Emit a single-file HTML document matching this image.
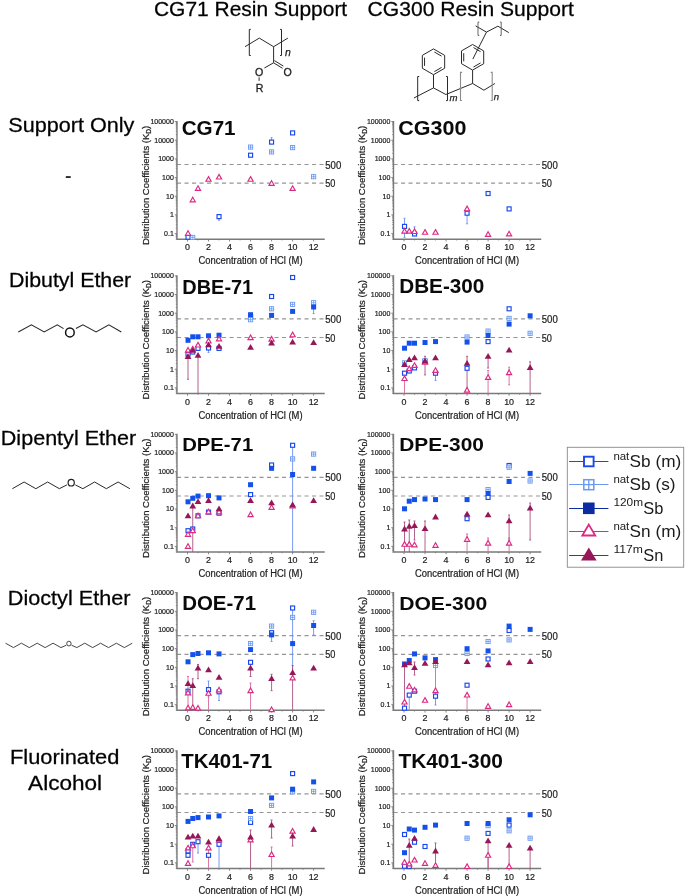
<!DOCTYPE html>
<html><head><meta charset="utf-8"><title>Distribution coefficients</title><style>html,body{margin:0;padding:0;background:#fff;}svg{display:block;will-change:transform;}</style></head><body>
<svg width="685" height="896" viewBox="0 0 685 896" font-family="'Liberation Sans', sans-serif">
<rect width="685" height="896" fill="#fff"/>
<text x="154" y="15.6" font-size="19.8" textLength="193.2" lengthAdjust="spacingAndGlyphs" stroke="#111" stroke-width="0.28">CG71 Resin Support</text>
<text x="367.6" y="15.6" font-size="19.8" textLength="206.2" lengthAdjust="spacingAndGlyphs" stroke="#111" stroke-width="0.28">CG300 Resin Support</text>
<text x="8.3" y="131.8" font-size="19.8" textLength="126" lengthAdjust="spacingAndGlyphs" stroke="#111" stroke-width="0.28">Support Only</text>
<rect x="65.8" y="176.2" width="4.9" height="1.7" fill="#111"/>
<text x="9" y="286.6" font-size="19.8" textLength="122.2" lengthAdjust="spacingAndGlyphs" stroke="#111" stroke-width="0.28">Dibutyl Ether</text>
<text x="0.8" y="444.8" font-size="19.8" textLength="135.4" lengthAdjust="spacingAndGlyphs" stroke="#111" stroke-width="0.28">Dipentyl Ether</text>
<text x="7.8" y="604.8" font-size="19.8" textLength="122.7" lengthAdjust="spacingAndGlyphs" stroke="#111" stroke-width="0.28">Dioctyl Ether</text>
<text x="10" y="763.5" font-size="19.8" textLength="109.3" lengthAdjust="spacingAndGlyphs" stroke="#111" stroke-width="0.28">Fluorinated</text>
<text x="28.1" y="790.1" font-size="19.8" textLength="74" lengthAdjust="spacingAndGlyphs" stroke="#111" stroke-width="0.28">Alcohol</text>
<line x1="176.99" y1="164.52" x2="324.13" y2="164.52" stroke="#959595" stroke-width="1.2" stroke-dasharray="4.1 3.4"/>
<text x="325.23" y="168.62" font-size="10" textLength="16.0" lengthAdjust="spacingAndGlyphs" fill="#222" stroke="#222" stroke-width="0.22">500</text>
<line x1="176.99" y1="183.19" x2="324.13" y2="183.19" stroke="#959595" stroke-width="1.2" stroke-dasharray="4.1 3.4"/>
<text x="325.23" y="187.29" font-size="10" textLength="10.2" lengthAdjust="spacingAndGlyphs" fill="#222" stroke="#222" stroke-width="0.22">50</text>
<path d="M176.99 120.96V239.2H324.73" fill="none" stroke="#7a7a7a" stroke-width="1.4"/>
<text x="173.79" y="235.88" font-size="7.5" text-anchor="end" textLength="9.74" lengthAdjust="spacingAndGlyphs" fill="#222" stroke="#222" stroke-width="0.22">0.1</text>
<text x="173.79" y="217.21" font-size="7.5" text-anchor="end" textLength="3.9" lengthAdjust="spacingAndGlyphs" fill="#222" stroke="#222" stroke-width="0.22">1</text>
<text x="173.79" y="198.54" font-size="7.5" text-anchor="end" textLength="7.79" lengthAdjust="spacingAndGlyphs" fill="#222" stroke="#222" stroke-width="0.22">10</text>
<text x="173.79" y="179.87" font-size="7.5" text-anchor="end" textLength="11.69" lengthAdjust="spacingAndGlyphs" fill="#222" stroke="#222" stroke-width="0.22">100</text>
<text x="173.79" y="161.2" font-size="7.5" text-anchor="end" textLength="15.58" lengthAdjust="spacingAndGlyphs" fill="#222" stroke="#222" stroke-width="0.22">1000</text>
<text x="173.79" y="142.53" font-size="7.5" text-anchor="end" textLength="19.48" lengthAdjust="spacingAndGlyphs" fill="#222" stroke="#222" stroke-width="0.22">10000</text>
<text x="173.79" y="123.86" font-size="7.5" text-anchor="end" textLength="23.37" lengthAdjust="spacingAndGlyphs" fill="#222" stroke="#222" stroke-width="0.22">100000</text>
<path d="M174.79 233.58H176.99 M175.79 227.96H176.99 M175.79 224.67H176.99 M175.79 222.34H176.99 M175.79 220.53H176.99 M175.79 219.05H176.99 M175.79 217.8H176.99 M175.79 216.72H176.99 M175.79 215.76H176.99 M174.79 214.91H176.99 M175.79 209.29H176.99 M175.79 206H176.99 M175.79 203.67H176.99 M175.79 201.86H176.99 M175.79 200.38H176.99 M175.79 199.13H176.99 M175.79 198.05H176.99 M175.79 197.09H176.99 M174.79 196.24H176.99 M175.79 190.62H176.99 M175.79 187.33H176.99 M175.79 185H176.99 M175.79 183.19H176.99 M175.79 181.71H176.99 M175.79 180.46H176.99 M175.79 179.38H176.99 M175.79 178.42H176.99 M174.79 177.57H176.99 M175.79 171.95H176.99 M175.79 168.66H176.99 M175.79 166.33H176.99 M175.79 164.52H176.99 M175.79 163.04H176.99 M175.79 161.79H176.99 M175.79 160.71H176.99 M175.79 159.75H176.99 M174.79 158.9H176.99 M175.79 153.28H176.99 M175.79 149.99H176.99 M175.79 147.66H176.99 M175.79 145.85H176.99 M175.79 144.37H176.99 M175.79 143.12H176.99 M175.79 142.04H176.99 M175.79 141.08H176.99 M174.79 140.23H176.99 M175.79 134.61H176.99 M175.79 131.32H176.99 M175.79 128.99H176.99 M175.79 127.18H176.99 M175.79 125.7H176.99 M175.79 124.45H176.99 M175.79 123.37H176.99 M175.79 122.41H176.99 M174.79 121.56H176.99 M175.79 239.2H176.99 M175.79 237.72H176.99 M175.79 236.47H176.99 M175.79 235.39H176.99 M175.79 234.43H176.99 M187.5 239.2V241.4 M198.01 239.2V240.4 M208.52 239.2V241.4 M219.03 239.2V240.4 M229.54 239.2V241.4 M240.05 239.2V240.4 M250.56 239.2V241.4 M261.07 239.2V240.4 M271.58 239.2V241.4 M282.09 239.2V240.4 M292.6 239.2V241.4 M303.11 239.2V240.4 M313.62 239.2V241.4" stroke="#7a7a7a" stroke-width="0.9" fill="none"/>
<text x="187.5" y="250.2" font-size="9.8" text-anchor="middle" textLength="4.95" lengthAdjust="spacingAndGlyphs" fill="#222" stroke="#222" stroke-width="0.22">0</text>
<text x="208.52" y="250.2" font-size="9.8" text-anchor="middle" textLength="4.95" lengthAdjust="spacingAndGlyphs" fill="#222" stroke="#222" stroke-width="0.22">2</text>
<text x="229.54" y="250.2" font-size="9.8" text-anchor="middle" textLength="4.95" lengthAdjust="spacingAndGlyphs" fill="#222" stroke="#222" stroke-width="0.22">4</text>
<text x="250.56" y="250.2" font-size="9.8" text-anchor="middle" textLength="4.95" lengthAdjust="spacingAndGlyphs" fill="#222" stroke="#222" stroke-width="0.22">6</text>
<text x="271.58" y="250.2" font-size="9.8" text-anchor="middle" textLength="4.95" lengthAdjust="spacingAndGlyphs" fill="#222" stroke="#222" stroke-width="0.22">8</text>
<text x="292.6" y="250.2" font-size="9.8" text-anchor="middle" textLength="9.9" lengthAdjust="spacingAndGlyphs" fill="#222" stroke="#222" stroke-width="0.22">10</text>
<text x="313.62" y="250.2" font-size="9.8" text-anchor="middle" textLength="9.9" lengthAdjust="spacingAndGlyphs" fill="#222" stroke="#222" stroke-width="0.22">12</text>
<text x="250.56" y="264.2" font-size="10" text-anchor="middle" textLength="104" lengthAdjust="spacingAndGlyphs" fill="#222" stroke="#222" stroke-width="0.22">Concentration of HCl (M)</text>
<text transform="translate(148.69 185.48) rotate(-90)" x="0" y="0" font-size="9.8" text-anchor="middle" textLength="119.3" lengthAdjust="spacingAndGlyphs" fill="#222" stroke="#222" stroke-width="0.22">Distribution Coefficients (K<tspan font-size="6.8" dy="2">D</tspan><tspan dy="-2">)</tspan></text>
<text x="181.7" y="135.4" font-size="19.55" font-weight="bold" textLength="53.9" lengthAdjust="spacingAndGlyphs" fill="#0a0a0a">CG71</text>
<path d="M271.58 137.7V142.1" stroke="#6a8fec" stroke-width="0.9"/>
<path d="M270.58 137.7h2" stroke="#6a8fec" stroke-width="0.9"/>
<path d="M219.03 216.6V220.2" stroke="#6a8fec" stroke-width="0.9"/>
<path d="M218.03 220.2h2" stroke="#6a8fec" stroke-width="0.9"/>
<rect x="290.6" y="130.9" width="4" height="4" fill="#fff" stroke="#1a48ec" stroke-width="1.15"/>
<rect x="269.58" y="140.1" width="4" height="4" fill="#fff" stroke="#1a48ec" stroke-width="1.15"/>
<rect x="248.56" y="153.2" width="4" height="4" fill="#fff" stroke="#1a48ec" stroke-width="1.15"/>
<rect x="217.03" y="214.6" width="4" height="4" fill="#fff" stroke="#1a48ec" stroke-width="1.15"/>
<rect x="186.03" y="235.2" width="4" height="4" fill="#fff" stroke="#1a48ec" stroke-width="1.15"/>
<rect x="269.48" y="149.8" width="4.2" height="4.2" fill="#fff" stroke="#6a98f2" stroke-width="0.9"/><path d="M271.58 149.8V154M269.48 151.9H273.68" stroke="#6a98f2" stroke-width="0.8"/>
<rect x="290.5" y="145.5" width="4.2" height="4.2" fill="#fff" stroke="#6a98f2" stroke-width="0.9"/><path d="M292.6 145.5V149.7M290.5 147.6H294.7" stroke="#6a98f2" stroke-width="0.8"/>
<rect x="248.46" y="145" width="4.2" height="4.2" fill="#fff" stroke="#6a98f2" stroke-width="0.9"/><path d="M250.56 145V149.2M248.46 147.1H252.66" stroke="#6a98f2" stroke-width="0.8"/>
<rect x="311.52" y="174.6" width="4.2" height="4.2" fill="#fff" stroke="#6a98f2" stroke-width="0.9"/><path d="M313.62 174.6V178.8M311.52 176.7H315.72" stroke="#6a98f2" stroke-width="0.8"/>
<rect x="190.66" y="235.3" width="4.2" height="4.2" fill="#fff" stroke="#6a98f2" stroke-width="0.9"/><path d="M192.75 235.3V239.5M190.66 237.4H194.85" stroke="#6a98f2" stroke-width="0.8"/>
<path d="M188.03 230.7L190.63 235.3H185.43Z" fill="#fff" stroke="#dc2a84" stroke-width="1.15" stroke-linejoin="miter"/>
<path d="M192.75 197.2L195.35 201.8H190.16Z" fill="#fff" stroke="#dc2a84" stroke-width="1.15" stroke-linejoin="miter"/>
<path d="M198.01 185.8L200.61 190.4H195.41Z" fill="#fff" stroke="#dc2a84" stroke-width="1.15" stroke-linejoin="miter"/>
<path d="M208.52 176.6L211.12 181.2H205.92Z" fill="#fff" stroke="#dc2a84" stroke-width="1.15" stroke-linejoin="miter"/>
<path d="M219.03 174.4L221.63 179H216.43Z" fill="#fff" stroke="#dc2a84" stroke-width="1.15" stroke-linejoin="miter"/>
<path d="M250.56 176.6L253.16 181.2H247.96Z" fill="#fff" stroke="#dc2a84" stroke-width="1.15" stroke-linejoin="miter"/>
<path d="M271.58 180.7L274.18 185.3H268.98Z" fill="#fff" stroke="#dc2a84" stroke-width="1.15" stroke-linejoin="miter"/>
<path d="M292.6 185.8L295.2 190.4H290Z" fill="#fff" stroke="#dc2a84" stroke-width="1.15" stroke-linejoin="miter"/>
<line x1="393.49" y1="164.52" x2="540.63" y2="164.52" stroke="#959595" stroke-width="1.2" stroke-dasharray="4.1 3.4"/>
<text x="541.73" y="168.62" font-size="10" textLength="16.0" lengthAdjust="spacingAndGlyphs" fill="#222" stroke="#222" stroke-width="0.22">500</text>
<line x1="393.49" y1="183.19" x2="540.63" y2="183.19" stroke="#959595" stroke-width="1.2" stroke-dasharray="4.1 3.4"/>
<text x="541.73" y="187.29" font-size="10" textLength="10.2" lengthAdjust="spacingAndGlyphs" fill="#222" stroke="#222" stroke-width="0.22">50</text>
<path d="M393.49 120.96V239.2H541.23" fill="none" stroke="#7a7a7a" stroke-width="1.4"/>
<text x="390.29" y="235.88" font-size="7.5" text-anchor="end" textLength="9.74" lengthAdjust="spacingAndGlyphs" fill="#222" stroke="#222" stroke-width="0.22">0.1</text>
<text x="390.29" y="217.21" font-size="7.5" text-anchor="end" textLength="3.9" lengthAdjust="spacingAndGlyphs" fill="#222" stroke="#222" stroke-width="0.22">1</text>
<text x="390.29" y="198.54" font-size="7.5" text-anchor="end" textLength="7.79" lengthAdjust="spacingAndGlyphs" fill="#222" stroke="#222" stroke-width="0.22">10</text>
<text x="390.29" y="179.87" font-size="7.5" text-anchor="end" textLength="11.69" lengthAdjust="spacingAndGlyphs" fill="#222" stroke="#222" stroke-width="0.22">100</text>
<text x="390.29" y="161.2" font-size="7.5" text-anchor="end" textLength="15.58" lengthAdjust="spacingAndGlyphs" fill="#222" stroke="#222" stroke-width="0.22">1000</text>
<text x="390.29" y="142.53" font-size="7.5" text-anchor="end" textLength="19.48" lengthAdjust="spacingAndGlyphs" fill="#222" stroke="#222" stroke-width="0.22">10000</text>
<text x="390.29" y="123.86" font-size="7.5" text-anchor="end" textLength="23.37" lengthAdjust="spacingAndGlyphs" fill="#222" stroke="#222" stroke-width="0.22">100000</text>
<path d="M391.29 233.58H393.49 M392.29 227.96H393.49 M392.29 224.67H393.49 M392.29 222.34H393.49 M392.29 220.53H393.49 M392.29 219.05H393.49 M392.29 217.8H393.49 M392.29 216.72H393.49 M392.29 215.76H393.49 M391.29 214.91H393.49 M392.29 209.29H393.49 M392.29 206H393.49 M392.29 203.67H393.49 M392.29 201.86H393.49 M392.29 200.38H393.49 M392.29 199.13H393.49 M392.29 198.05H393.49 M392.29 197.09H393.49 M391.29 196.24H393.49 M392.29 190.62H393.49 M392.29 187.33H393.49 M392.29 185H393.49 M392.29 183.19H393.49 M392.29 181.71H393.49 M392.29 180.46H393.49 M392.29 179.38H393.49 M392.29 178.42H393.49 M391.29 177.57H393.49 M392.29 171.95H393.49 M392.29 168.66H393.49 M392.29 166.33H393.49 M392.29 164.52H393.49 M392.29 163.04H393.49 M392.29 161.79H393.49 M392.29 160.71H393.49 M392.29 159.75H393.49 M391.29 158.9H393.49 M392.29 153.28H393.49 M392.29 149.99H393.49 M392.29 147.66H393.49 M392.29 145.85H393.49 M392.29 144.37H393.49 M392.29 143.12H393.49 M392.29 142.04H393.49 M392.29 141.08H393.49 M391.29 140.23H393.49 M392.29 134.61H393.49 M392.29 131.32H393.49 M392.29 128.99H393.49 M392.29 127.18H393.49 M392.29 125.7H393.49 M392.29 124.45H393.49 M392.29 123.37H393.49 M392.29 122.41H393.49 M391.29 121.56H393.49 M392.29 239.2H393.49 M392.29 237.72H393.49 M392.29 236.47H393.49 M392.29 235.39H393.49 M392.29 234.43H393.49 M404 239.2V241.4 M414.51 239.2V240.4 M425.02 239.2V241.4 M435.53 239.2V240.4 M446.04 239.2V241.4 M456.55 239.2V240.4 M467.06 239.2V241.4 M477.57 239.2V240.4 M488.08 239.2V241.4 M498.59 239.2V240.4 M509.1 239.2V241.4 M519.61 239.2V240.4 M530.12 239.2V241.4" stroke="#7a7a7a" stroke-width="0.9" fill="none"/>
<text x="404" y="250.2" font-size="9.8" text-anchor="middle" textLength="4.95" lengthAdjust="spacingAndGlyphs" fill="#222" stroke="#222" stroke-width="0.22">0</text>
<text x="425.02" y="250.2" font-size="9.8" text-anchor="middle" textLength="4.95" lengthAdjust="spacingAndGlyphs" fill="#222" stroke="#222" stroke-width="0.22">2</text>
<text x="446.04" y="250.2" font-size="9.8" text-anchor="middle" textLength="4.95" lengthAdjust="spacingAndGlyphs" fill="#222" stroke="#222" stroke-width="0.22">4</text>
<text x="467.06" y="250.2" font-size="9.8" text-anchor="middle" textLength="4.95" lengthAdjust="spacingAndGlyphs" fill="#222" stroke="#222" stroke-width="0.22">6</text>
<text x="488.08" y="250.2" font-size="9.8" text-anchor="middle" textLength="4.95" lengthAdjust="spacingAndGlyphs" fill="#222" stroke="#222" stroke-width="0.22">8</text>
<text x="509.1" y="250.2" font-size="9.8" text-anchor="middle" textLength="9.9" lengthAdjust="spacingAndGlyphs" fill="#222" stroke="#222" stroke-width="0.22">10</text>
<text x="530.12" y="250.2" font-size="9.8" text-anchor="middle" textLength="9.9" lengthAdjust="spacingAndGlyphs" fill="#222" stroke="#222" stroke-width="0.22">12</text>
<text x="467.06" y="264.2" font-size="10" text-anchor="middle" textLength="104" lengthAdjust="spacingAndGlyphs" fill="#222" stroke="#222" stroke-width="0.22">Concentration of HCl (M)</text>
<text transform="translate(365.19 185.48) rotate(-90)" x="0" y="0" font-size="9.8" text-anchor="middle" textLength="119.3" lengthAdjust="spacingAndGlyphs" fill="#222" stroke="#222" stroke-width="0.22">Distribution Coefficients (K<tspan font-size="6.8" dy="2">D</tspan><tspan dy="-2">)</tspan></text>
<text x="398.3" y="135.2" font-size="19.41" font-weight="bold" textLength="68.1" lengthAdjust="spacingAndGlyphs" fill="#0a0a0a">CG300</text>
<path d="M467.06 208.9V223.8" stroke="#6a8fec" stroke-width="0.9"/>
<path d="M466.06 208.9h2 M466.06 223.8h2" stroke="#6a8fec" stroke-width="0.9"/>
<path d="M404.53 218.3V237.3" stroke="#6a8fec" stroke-width="0.9"/>
<path d="M403.53 218.3h2 M403.53 237.3h2" stroke="#6a8fec" stroke-width="0.9"/>
<path d="M414.51 226.8V234" stroke="#6a8fec" stroke-width="0.9"/>
<path d="M413.51 226.8h2" stroke="#6a8fec" stroke-width="0.9"/>
<rect x="486.08" y="191.5" width="4" height="4" fill="#fff" stroke="#1a48ec" stroke-width="1.15"/>
<rect x="507.1" y="206.9" width="4" height="4" fill="#fff" stroke="#1a48ec" stroke-width="1.15"/>
<rect x="465.06" y="211.2" width="4" height="4" fill="#fff" stroke="#1a48ec" stroke-width="1.15"/>
<rect x="402.53" y="224.4" width="4" height="4" fill="#fff" stroke="#1a48ec" stroke-width="1.15"/>
<rect x="412.51" y="232" width="4" height="4" fill="#fff" stroke="#1a48ec" stroke-width="1.15"/>
<path d="M467.06 206.1L469.66 210.7H464.46Z" fill="#fff" stroke="#dc2a84" stroke-width="1.15" stroke-linejoin="miter"/>
<path d="M404.53 228.5L407.13 233.1H401.93Z" fill="#fff" stroke="#dc2a84" stroke-width="1.15" stroke-linejoin="miter"/>
<path d="M409.25 228.5L411.86 233.1H406.65Z" fill="#fff" stroke="#dc2a84" stroke-width="1.15" stroke-linejoin="miter"/>
<path d="M414.51 228.9L417.11 233.5H411.91Z" fill="#fff" stroke="#dc2a84" stroke-width="1.15" stroke-linejoin="miter"/>
<path d="M425.02 229.6L427.62 234.2H422.42Z" fill="#fff" stroke="#dc2a84" stroke-width="1.15" stroke-linejoin="miter"/>
<path d="M435.53 229.6L438.13 234.2H432.93Z" fill="#fff" stroke="#dc2a84" stroke-width="1.15" stroke-linejoin="miter"/>
<path d="M488.08 231.7L490.68 236.3H485.48Z" fill="#fff" stroke="#dc2a84" stroke-width="1.15" stroke-linejoin="miter"/>
<path d="M509.1 231.3L511.7 235.9H506.5Z" fill="#fff" stroke="#dc2a84" stroke-width="1.15" stroke-linejoin="miter"/>
<line x1="176.99" y1="318.82" x2="324.13" y2="318.82" stroke="#959595" stroke-width="1.2" stroke-dasharray="4.1 3.4"/>
<text x="325.23" y="322.92" font-size="10" textLength="16.0" lengthAdjust="spacingAndGlyphs" fill="#222" stroke="#222" stroke-width="0.22">500</text>
<line x1="176.99" y1="337.49" x2="324.13" y2="337.49" stroke="#959595" stroke-width="1.2" stroke-dasharray="4.1 3.4"/>
<text x="325.23" y="341.59" font-size="10" textLength="10.2" lengthAdjust="spacingAndGlyphs" fill="#222" stroke="#222" stroke-width="0.22">50</text>
<path d="M176.99 275.26V393.5H324.73" fill="none" stroke="#7a7a7a" stroke-width="1.4"/>
<text x="173.79" y="390.18" font-size="7.5" text-anchor="end" textLength="9.74" lengthAdjust="spacingAndGlyphs" fill="#222" stroke="#222" stroke-width="0.22">0.1</text>
<text x="173.79" y="371.51" font-size="7.5" text-anchor="end" textLength="3.9" lengthAdjust="spacingAndGlyphs" fill="#222" stroke="#222" stroke-width="0.22">1</text>
<text x="173.79" y="352.84" font-size="7.5" text-anchor="end" textLength="7.79" lengthAdjust="spacingAndGlyphs" fill="#222" stroke="#222" stroke-width="0.22">10</text>
<text x="173.79" y="334.17" font-size="7.5" text-anchor="end" textLength="11.69" lengthAdjust="spacingAndGlyphs" fill="#222" stroke="#222" stroke-width="0.22">100</text>
<text x="173.79" y="315.5" font-size="7.5" text-anchor="end" textLength="15.58" lengthAdjust="spacingAndGlyphs" fill="#222" stroke="#222" stroke-width="0.22">1000</text>
<text x="173.79" y="296.83" font-size="7.5" text-anchor="end" textLength="19.48" lengthAdjust="spacingAndGlyphs" fill="#222" stroke="#222" stroke-width="0.22">10000</text>
<text x="173.79" y="278.16" font-size="7.5" text-anchor="end" textLength="23.37" lengthAdjust="spacingAndGlyphs" fill="#222" stroke="#222" stroke-width="0.22">100000</text>
<path d="M174.79 387.88H176.99 M175.79 382.26H176.99 M175.79 378.97H176.99 M175.79 376.64H176.99 M175.79 374.83H176.99 M175.79 373.35H176.99 M175.79 372.1H176.99 M175.79 371.02H176.99 M175.79 370.06H176.99 M174.79 369.21H176.99 M175.79 363.59H176.99 M175.79 360.3H176.99 M175.79 357.97H176.99 M175.79 356.16H176.99 M175.79 354.68H176.99 M175.79 353.43H176.99 M175.79 352.35H176.99 M175.79 351.39H176.99 M174.79 350.54H176.99 M175.79 344.92H176.99 M175.79 341.63H176.99 M175.79 339.3H176.99 M175.79 337.49H176.99 M175.79 336.01H176.99 M175.79 334.76H176.99 M175.79 333.68H176.99 M175.79 332.72H176.99 M174.79 331.87H176.99 M175.79 326.25H176.99 M175.79 322.96H176.99 M175.79 320.63H176.99 M175.79 318.82H176.99 M175.79 317.34H176.99 M175.79 316.09H176.99 M175.79 315.01H176.99 M175.79 314.05H176.99 M174.79 313.2H176.99 M175.79 307.58H176.99 M175.79 304.29H176.99 M175.79 301.96H176.99 M175.79 300.15H176.99 M175.79 298.67H176.99 M175.79 297.42H176.99 M175.79 296.34H176.99 M175.79 295.38H176.99 M174.79 294.53H176.99 M175.79 288.91H176.99 M175.79 285.62H176.99 M175.79 283.29H176.99 M175.79 281.48H176.99 M175.79 280H176.99 M175.79 278.75H176.99 M175.79 277.67H176.99 M175.79 276.71H176.99 M174.79 275.86H176.99 M175.79 393.5H176.99 M175.79 392.02H176.99 M175.79 390.77H176.99 M175.79 389.69H176.99 M175.79 388.73H176.99 M187.5 393.5V395.7 M198.01 393.5V394.7 M208.52 393.5V395.7 M219.03 393.5V394.7 M229.54 393.5V395.7 M240.05 393.5V394.7 M250.56 393.5V395.7 M261.07 393.5V394.7 M271.58 393.5V395.7 M282.09 393.5V394.7 M292.6 393.5V395.7 M303.11 393.5V394.7 M313.62 393.5V395.7" stroke="#7a7a7a" stroke-width="0.9" fill="none"/>
<text x="187.5" y="404.5" font-size="9.8" text-anchor="middle" textLength="4.95" lengthAdjust="spacingAndGlyphs" fill="#222" stroke="#222" stroke-width="0.22">0</text>
<text x="208.52" y="404.5" font-size="9.8" text-anchor="middle" textLength="4.95" lengthAdjust="spacingAndGlyphs" fill="#222" stroke="#222" stroke-width="0.22">2</text>
<text x="229.54" y="404.5" font-size="9.8" text-anchor="middle" textLength="4.95" lengthAdjust="spacingAndGlyphs" fill="#222" stroke="#222" stroke-width="0.22">4</text>
<text x="250.56" y="404.5" font-size="9.8" text-anchor="middle" textLength="4.95" lengthAdjust="spacingAndGlyphs" fill="#222" stroke="#222" stroke-width="0.22">6</text>
<text x="271.58" y="404.5" font-size="9.8" text-anchor="middle" textLength="4.95" lengthAdjust="spacingAndGlyphs" fill="#222" stroke="#222" stroke-width="0.22">8</text>
<text x="292.6" y="404.5" font-size="9.8" text-anchor="middle" textLength="9.9" lengthAdjust="spacingAndGlyphs" fill="#222" stroke="#222" stroke-width="0.22">10</text>
<text x="313.62" y="404.5" font-size="9.8" text-anchor="middle" textLength="9.9" lengthAdjust="spacingAndGlyphs" fill="#222" stroke="#222" stroke-width="0.22">12</text>
<text x="250.56" y="418.5" font-size="10" text-anchor="middle" textLength="104" lengthAdjust="spacingAndGlyphs" fill="#222" stroke="#222" stroke-width="0.22">Concentration of HCl (M)</text>
<text transform="translate(148.69 339.78) rotate(-90)" x="0" y="0" font-size="9.8" text-anchor="middle" textLength="119.3" lengthAdjust="spacingAndGlyphs" fill="#222" stroke="#222" stroke-width="0.22">Distribution Coefficients (K<tspan font-size="6.8" dy="2">D</tspan><tspan dy="-2">)</tspan></text>
<text x="182.3" y="293.6" font-size="19.69" font-weight="bold" textLength="70.9" lengthAdjust="spacingAndGlyphs" fill="#0a0a0a">DBE-71</text>
<path d="M208.52 348V352.6" stroke="#6a8fec" stroke-width="0.9"/>
<path d="M207.52 352.6h2" stroke="#6a8fec" stroke-width="0.9"/>
<path d="M313.62 307V313.6" stroke="#6a8fec" stroke-width="0.9"/>
<path d="M312.62 313.6h2" stroke="#6a8fec" stroke-width="0.9"/>
<path d="M188.03 356V379.3" stroke="#a9507f" stroke-width="0.9"/>
<path d="M187.03 379.3h2" stroke="#a9507f" stroke-width="0.9"/>
<path d="M198.01 354.9V393.5" stroke="#a9507f" stroke-width="0.9"/>
<rect x="290.6" y="275.5" width="4" height="4" fill="#fff" stroke="#1a48ec" stroke-width="1.15"/>
<rect x="269.58" y="294.5" width="4" height="4" fill="#fff" stroke="#1a48ec" stroke-width="1.15"/>
<rect x="248.56" y="315" width="4" height="4" fill="#fff" stroke="#1a48ec" stroke-width="1.15"/>
<rect x="186.03" y="352.2" width="4" height="4" fill="#fff" stroke="#1a48ec" stroke-width="1.15"/>
<rect x="190.75" y="350" width="4" height="4" fill="#fff" stroke="#1a48ec" stroke-width="1.15"/>
<rect x="196.01" y="346.4" width="4" height="4" fill="#fff" stroke="#1a48ec" stroke-width="1.15"/>
<rect x="206.52" y="346" width="4" height="4" fill="#fff" stroke="#1a48ec" stroke-width="1.15"/>
<rect x="217.03" y="346.4" width="4" height="4" fill="#fff" stroke="#1a48ec" stroke-width="1.15"/>
<rect x="269.48" y="306.7" width="4.2" height="4.2" fill="#fff" stroke="#6a98f2" stroke-width="0.9"/><path d="M271.58 306.7V310.9M269.48 308.8H273.68" stroke="#6a98f2" stroke-width="0.8"/>
<rect x="290.5" y="302.3" width="4.2" height="4.2" fill="#fff" stroke="#6a98f2" stroke-width="0.9"/><path d="M292.6 302.3V306.5M290.5 304.4H294.7" stroke="#6a98f2" stroke-width="0.8"/>
<rect x="311.52" y="300.6" width="4.2" height="4.2" fill="#fff" stroke="#6a98f2" stroke-width="0.9"/><path d="M313.62 300.6V304.8M311.52 302.7H315.72" stroke="#6a98f2" stroke-width="0.8"/>
<rect x="248.46" y="317.6" width="4.2" height="4.2" fill="#fff" stroke="#6a98f2" stroke-width="0.9"/><path d="M250.56 317.6V321.8M248.46 319.7H252.66" stroke="#6a98f2" stroke-width="0.8"/>
<rect x="185.53" y="337.8" width="5" height="5" fill="#1450ea"/>
<rect x="190.25" y="334.3" width="5" height="5" fill="#1450ea"/>
<rect x="195.51" y="334.3" width="5" height="5" fill="#1450ea"/>
<rect x="206.02" y="333.3" width="5" height="5" fill="#1450ea"/>
<rect x="216.53" y="332.7" width="5" height="5" fill="#1450ea"/>
<rect x="248.06" y="312.2" width="5" height="5" fill="#1450ea"/>
<rect x="269.08" y="312.9" width="5" height="5" fill="#1450ea"/>
<rect x="290.1" y="308.9" width="5" height="5" fill="#1450ea"/>
<rect x="311.12" y="304.5" width="5" height="5" fill="#1450ea"/>
<path d="M188.03 347.5L190.63 352.1H185.43Z" fill="#fff" stroke="#dc2a84" stroke-width="1.15" stroke-linejoin="miter"/>
<path d="M192.75 346.3L195.35 350.9H190.16Z" fill="#fff" stroke="#dc2a84" stroke-width="1.15" stroke-linejoin="miter"/>
<path d="M198.01 342.4L200.61 347H195.41Z" fill="#fff" stroke="#dc2a84" stroke-width="1.15" stroke-linejoin="miter"/>
<path d="M208.52 338.4L211.12 343H205.92Z" fill="#fff" stroke="#dc2a84" stroke-width="1.15" stroke-linejoin="miter"/>
<path d="M219.03 336.2L221.63 340.8H216.43Z" fill="#fff" stroke="#dc2a84" stroke-width="1.15" stroke-linejoin="miter"/>
<path d="M250.56 335L253.16 339.6H247.96Z" fill="#fff" stroke="#dc2a84" stroke-width="1.15" stroke-linejoin="miter"/>
<path d="M271.58 336.5L274.18 341.1H268.98Z" fill="#fff" stroke="#dc2a84" stroke-width="1.15" stroke-linejoin="miter"/>
<path d="M292.6 332.1L295.2 336.7H290Z" fill="#fff" stroke="#dc2a84" stroke-width="1.15" stroke-linejoin="miter"/>
<path d="M188.03 353.1L191.43 358.9H184.63Z" fill="#961758"/>
<path d="M192.75 346.9L196.16 352.7H189.35Z" fill="#961758"/>
<path d="M198.01 352L201.41 357.8H194.61Z" fill="#961758"/>
<path d="M208.52 341.4L211.92 347.2H205.12Z" fill="#961758"/>
<path d="M219.03 342.9L222.43 348.7H215.63Z" fill="#961758"/>
<path d="M250.56 344L253.96 349.8H247.16Z" fill="#961758"/>
<path d="M271.58 339.6L274.98 345.4H268.18Z" fill="#961758"/>
<path d="M292.6 338.7L296 344.5H289.2Z" fill="#961758"/>
<path d="M313.62 339.2L317.02 345H310.22Z" fill="#961758"/>
<line x1="393.49" y1="318.82" x2="540.63" y2="318.82" stroke="#959595" stroke-width="1.2" stroke-dasharray="4.1 3.4"/>
<text x="541.73" y="322.92" font-size="10" textLength="16.0" lengthAdjust="spacingAndGlyphs" fill="#222" stroke="#222" stroke-width="0.22">500</text>
<line x1="393.49" y1="337.49" x2="540.63" y2="337.49" stroke="#959595" stroke-width="1.2" stroke-dasharray="4.1 3.4"/>
<text x="541.73" y="341.59" font-size="10" textLength="10.2" lengthAdjust="spacingAndGlyphs" fill="#222" stroke="#222" stroke-width="0.22">50</text>
<path d="M393.49 275.26V393.5H541.23" fill="none" stroke="#7a7a7a" stroke-width="1.4"/>
<text x="390.29" y="390.18" font-size="7.5" text-anchor="end" textLength="9.74" lengthAdjust="spacingAndGlyphs" fill="#222" stroke="#222" stroke-width="0.22">0.1</text>
<text x="390.29" y="371.51" font-size="7.5" text-anchor="end" textLength="3.9" lengthAdjust="spacingAndGlyphs" fill="#222" stroke="#222" stroke-width="0.22">1</text>
<text x="390.29" y="352.84" font-size="7.5" text-anchor="end" textLength="7.79" lengthAdjust="spacingAndGlyphs" fill="#222" stroke="#222" stroke-width="0.22">10</text>
<text x="390.29" y="334.17" font-size="7.5" text-anchor="end" textLength="11.69" lengthAdjust="spacingAndGlyphs" fill="#222" stroke="#222" stroke-width="0.22">100</text>
<text x="390.29" y="315.5" font-size="7.5" text-anchor="end" textLength="15.58" lengthAdjust="spacingAndGlyphs" fill="#222" stroke="#222" stroke-width="0.22">1000</text>
<text x="390.29" y="296.83" font-size="7.5" text-anchor="end" textLength="19.48" lengthAdjust="spacingAndGlyphs" fill="#222" stroke="#222" stroke-width="0.22">10000</text>
<text x="390.29" y="278.16" font-size="7.5" text-anchor="end" textLength="23.37" lengthAdjust="spacingAndGlyphs" fill="#222" stroke="#222" stroke-width="0.22">100000</text>
<path d="M391.29 387.88H393.49 M392.29 382.26H393.49 M392.29 378.97H393.49 M392.29 376.64H393.49 M392.29 374.83H393.49 M392.29 373.35H393.49 M392.29 372.1H393.49 M392.29 371.02H393.49 M392.29 370.06H393.49 M391.29 369.21H393.49 M392.29 363.59H393.49 M392.29 360.3H393.49 M392.29 357.97H393.49 M392.29 356.16H393.49 M392.29 354.68H393.49 M392.29 353.43H393.49 M392.29 352.35H393.49 M392.29 351.39H393.49 M391.29 350.54H393.49 M392.29 344.92H393.49 M392.29 341.63H393.49 M392.29 339.3H393.49 M392.29 337.49H393.49 M392.29 336.01H393.49 M392.29 334.76H393.49 M392.29 333.68H393.49 M392.29 332.72H393.49 M391.29 331.87H393.49 M392.29 326.25H393.49 M392.29 322.96H393.49 M392.29 320.63H393.49 M392.29 318.82H393.49 M392.29 317.34H393.49 M392.29 316.09H393.49 M392.29 315.01H393.49 M392.29 314.05H393.49 M391.29 313.2H393.49 M392.29 307.58H393.49 M392.29 304.29H393.49 M392.29 301.96H393.49 M392.29 300.15H393.49 M392.29 298.67H393.49 M392.29 297.42H393.49 M392.29 296.34H393.49 M392.29 295.38H393.49 M391.29 294.53H393.49 M392.29 288.91H393.49 M392.29 285.62H393.49 M392.29 283.29H393.49 M392.29 281.48H393.49 M392.29 280H393.49 M392.29 278.75H393.49 M392.29 277.67H393.49 M392.29 276.71H393.49 M391.29 275.86H393.49 M392.29 393.5H393.49 M392.29 392.02H393.49 M392.29 390.77H393.49 M392.29 389.69H393.49 M392.29 388.73H393.49 M404 393.5V395.7 M414.51 393.5V394.7 M425.02 393.5V395.7 M435.53 393.5V394.7 M446.04 393.5V395.7 M456.55 393.5V394.7 M467.06 393.5V395.7 M477.57 393.5V394.7 M488.08 393.5V395.7 M498.59 393.5V394.7 M509.1 393.5V395.7 M519.61 393.5V394.7 M530.12 393.5V395.7" stroke="#7a7a7a" stroke-width="0.9" fill="none"/>
<text x="404" y="404.5" font-size="9.8" text-anchor="middle" textLength="4.95" lengthAdjust="spacingAndGlyphs" fill="#222" stroke="#222" stroke-width="0.22">0</text>
<text x="425.02" y="404.5" font-size="9.8" text-anchor="middle" textLength="4.95" lengthAdjust="spacingAndGlyphs" fill="#222" stroke="#222" stroke-width="0.22">2</text>
<text x="446.04" y="404.5" font-size="9.8" text-anchor="middle" textLength="4.95" lengthAdjust="spacingAndGlyphs" fill="#222" stroke="#222" stroke-width="0.22">4</text>
<text x="467.06" y="404.5" font-size="9.8" text-anchor="middle" textLength="4.95" lengthAdjust="spacingAndGlyphs" fill="#222" stroke="#222" stroke-width="0.22">6</text>
<text x="488.08" y="404.5" font-size="9.8" text-anchor="middle" textLength="4.95" lengthAdjust="spacingAndGlyphs" fill="#222" stroke="#222" stroke-width="0.22">8</text>
<text x="509.1" y="404.5" font-size="9.8" text-anchor="middle" textLength="9.9" lengthAdjust="spacingAndGlyphs" fill="#222" stroke="#222" stroke-width="0.22">10</text>
<text x="530.12" y="404.5" font-size="9.8" text-anchor="middle" textLength="9.9" lengthAdjust="spacingAndGlyphs" fill="#222" stroke="#222" stroke-width="0.22">12</text>
<text x="467.06" y="418.5" font-size="10" text-anchor="middle" textLength="104" lengthAdjust="spacingAndGlyphs" fill="#222" stroke="#222" stroke-width="0.22">Concentration of HCl (M)</text>
<text transform="translate(365.19 339.78) rotate(-90)" x="0" y="0" font-size="9.8" text-anchor="middle" textLength="119.3" lengthAdjust="spacingAndGlyphs" fill="#222" stroke="#222" stroke-width="0.22">Distribution Coefficients (K<tspan font-size="6.8" dy="2">D</tspan><tspan dy="-2">)</tspan></text>
<text x="399.2" y="293.3" font-size="19.55" font-weight="bold" textLength="85.2" lengthAdjust="spacingAndGlyphs" fill="#0a0a0a">DBE-300</text>
<path d="M435.53 373.2V380.4" stroke="#6a8fec" stroke-width="0.9"/>
<path d="M434.53 380.4h2" stroke="#6a8fec" stroke-width="0.9"/>
<path d="M404.53 378.2V393.5" stroke="#d8689e" stroke-width="0.9"/>
<path d="M488.08 370.5V393.5" stroke="#d8689e" stroke-width="0.9"/>
<path d="M487.08 370.5h2" stroke="#d8689e" stroke-width="0.9"/>
<path d="M509.1 367.2V384.8" stroke="#d8689e" stroke-width="0.9"/>
<path d="M508.1 367.2h2 M508.1 384.8h2" stroke="#d8689e" stroke-width="0.9"/>
<path d="M425.02 356.3V374.9" stroke="#a9507f" stroke-width="0.9"/>
<path d="M424.02 356.3h2 M424.02 374.9h2" stroke="#a9507f" stroke-width="0.9"/>
<path d="M467.06 356.3V390" stroke="#a9507f" stroke-width="0.9"/>
<path d="M466.06 356.3h2 M466.06 390h2" stroke="#a9507f" stroke-width="0.9"/>
<path d="M488.08 355.9V368" stroke="#a9507f" stroke-width="0.9"/>
<path d="M487.08 368h2" stroke="#a9507f" stroke-width="0.9"/>
<path d="M530.12 361.8V393.5" stroke="#a9507f" stroke-width="0.9"/>
<path d="M529.12 361.8h2" stroke="#a9507f" stroke-width="0.9"/>
<rect x="507.1" y="306.8" width="4" height="4" fill="#fff" stroke="#1a48ec" stroke-width="1.15"/>
<rect x="486.08" y="339.6" width="4" height="4" fill="#fff" stroke="#1a48ec" stroke-width="1.15"/>
<rect x="465.06" y="366.3" width="4" height="4" fill="#fff" stroke="#1a48ec" stroke-width="1.15"/>
<rect x="402.53" y="371.2" width="4" height="4" fill="#fff" stroke="#1a48ec" stroke-width="1.15"/>
<rect x="407.25" y="369" width="4" height="4" fill="#fff" stroke="#1a48ec" stroke-width="1.15"/>
<rect x="412.51" y="365.9" width="4" height="4" fill="#fff" stroke="#1a48ec" stroke-width="1.15"/>
<rect x="423.02" y="359.3" width="4" height="4" fill="#fff" stroke="#1a48ec" stroke-width="1.15"/>
<rect x="433.53" y="371.2" width="4" height="4" fill="#fff" stroke="#1a48ec" stroke-width="1.15"/>
<rect x="464.96" y="334.9" width="4.2" height="4.2" fill="#fff" stroke="#6a98f2" stroke-width="0.9"/><path d="M467.06 334.9V339.1M464.96 337H469.16" stroke="#6a98f2" stroke-width="0.8"/>
<rect x="485.98" y="329" width="4.2" height="4.2" fill="#fff" stroke="#6a98f2" stroke-width="0.9"/><path d="M488.08 329V333.2M485.98 331.1H490.18" stroke="#6a98f2" stroke-width="0.8"/>
<rect x="507" y="316.3" width="4.2" height="4.2" fill="#fff" stroke="#6a98f2" stroke-width="0.9"/><path d="M509.1 316.3V320.5M507 318.4H511.2" stroke="#6a98f2" stroke-width="0.8"/>
<rect x="528.02" y="331.2" width="4.2" height="4.2" fill="#fff" stroke="#6a98f2" stroke-width="0.9"/><path d="M530.12 331.2V335.4M528.02 333.3H532.22" stroke="#6a98f2" stroke-width="0.8"/>
<rect x="402.43" y="360.8" width="4.2" height="4.2" fill="#fff" stroke="#6a98f2" stroke-width="0.9"/><path d="M404.53 360.8V365M402.43 362.9H406.63" stroke="#6a98f2" stroke-width="0.8"/>
<rect x="422.92" y="358.6" width="4.2" height="4.2" fill="#fff" stroke="#6a98f2" stroke-width="0.9"/><path d="M425.02 358.6V362.8M422.92 360.7H427.12" stroke="#6a98f2" stroke-width="0.8"/>
<rect x="402.03" y="345.7" width="5" height="5" fill="#1450ea"/>
<rect x="406.75" y="340.7" width="5" height="5" fill="#1450ea"/>
<rect x="412.01" y="340.7" width="5" height="5" fill="#1450ea"/>
<rect x="422.52" y="340" width="5" height="5" fill="#1450ea"/>
<rect x="433.03" y="339.1" width="5" height="5" fill="#1450ea"/>
<rect x="464.56" y="339.6" width="5" height="5" fill="#1450ea"/>
<rect x="485.58" y="333" width="5" height="5" fill="#1450ea"/>
<rect x="506.6" y="321.6" width="5" height="5" fill="#1450ea"/>
<rect x="527.62" y="313.3" width="5" height="5" fill="#1450ea"/>
<path d="M404.53 375.9L407.13 380.5H401.93Z" fill="#fff" stroke="#dc2a84" stroke-width="1.15" stroke-linejoin="miter"/>
<path d="M409.25 366L411.86 370.6H406.65Z" fill="#fff" stroke="#dc2a84" stroke-width="1.15" stroke-linejoin="miter"/>
<path d="M414.51 362.8L417.11 367.4H411.91Z" fill="#fff" stroke="#dc2a84" stroke-width="1.15" stroke-linejoin="miter"/>
<path d="M425.02 359.5L427.62 364.1H422.42Z" fill="#fff" stroke="#dc2a84" stroke-width="1.15" stroke-linejoin="miter"/>
<path d="M435.53 367.8L438.13 372.4H432.93Z" fill="#fff" stroke="#dc2a84" stroke-width="1.15" stroke-linejoin="miter"/>
<path d="M467.06 387.5L469.66 392.1H464.46Z" fill="#fff" stroke="#dc2a84" stroke-width="1.15" stroke-linejoin="miter"/>
<path d="M488.08 374.8L490.68 379.4H485.48Z" fill="#fff" stroke="#dc2a84" stroke-width="1.15" stroke-linejoin="miter"/>
<path d="M509.1 370L511.7 374.6H506.5Z" fill="#fff" stroke="#dc2a84" stroke-width="1.15" stroke-linejoin="miter"/>
<path d="M404.53 361.1L407.93 366.9H401.13Z" fill="#961758"/>
<path d="M409.25 356.2L412.65 362H405.86Z" fill="#961758"/>
<path d="M414.51 354.5L417.91 360.3H411.11Z" fill="#961758"/>
<path d="M425.02 357.8L428.42 363.6H421.62Z" fill="#961758"/>
<path d="M435.53 354.5L438.93 360.3H432.13Z" fill="#961758"/>
<path d="M467.06 360L470.46 365.8H463.66Z" fill="#961758"/>
<path d="M488.08 353L491.48 358.8H484.68Z" fill="#961758"/>
<path d="M509.1 346.8L512.5 352.6H505.7Z" fill="#961758"/>
<path d="M530.12 364.3L533.52 370.1H526.72Z" fill="#961758"/>
<line x1="176.99" y1="477.32" x2="324.13" y2="477.32" stroke="#959595" stroke-width="1.2" stroke-dasharray="4.1 3.4"/>
<text x="325.23" y="481.42" font-size="10" textLength="16.0" lengthAdjust="spacingAndGlyphs" fill="#222" stroke="#222" stroke-width="0.22">500</text>
<line x1="176.99" y1="495.99" x2="324.13" y2="495.99" stroke="#959595" stroke-width="1.2" stroke-dasharray="4.1 3.4"/>
<text x="325.23" y="500.09" font-size="10" textLength="10.2" lengthAdjust="spacingAndGlyphs" fill="#222" stroke="#222" stroke-width="0.22">50</text>
<path d="M176.99 433.76V552H324.73" fill="none" stroke="#7a7a7a" stroke-width="1.4"/>
<text x="173.79" y="548.68" font-size="7.5" text-anchor="end" textLength="9.74" lengthAdjust="spacingAndGlyphs" fill="#222" stroke="#222" stroke-width="0.22">0.1</text>
<text x="173.79" y="530.01" font-size="7.5" text-anchor="end" textLength="3.9" lengthAdjust="spacingAndGlyphs" fill="#222" stroke="#222" stroke-width="0.22">1</text>
<text x="173.79" y="511.34" font-size="7.5" text-anchor="end" textLength="7.79" lengthAdjust="spacingAndGlyphs" fill="#222" stroke="#222" stroke-width="0.22">10</text>
<text x="173.79" y="492.67" font-size="7.5" text-anchor="end" textLength="11.69" lengthAdjust="spacingAndGlyphs" fill="#222" stroke="#222" stroke-width="0.22">100</text>
<text x="173.79" y="474" font-size="7.5" text-anchor="end" textLength="15.58" lengthAdjust="spacingAndGlyphs" fill="#222" stroke="#222" stroke-width="0.22">1000</text>
<text x="173.79" y="455.33" font-size="7.5" text-anchor="end" textLength="19.48" lengthAdjust="spacingAndGlyphs" fill="#222" stroke="#222" stroke-width="0.22">10000</text>
<text x="173.79" y="436.66" font-size="7.5" text-anchor="end" textLength="23.37" lengthAdjust="spacingAndGlyphs" fill="#222" stroke="#222" stroke-width="0.22">100000</text>
<path d="M174.79 546.38H176.99 M175.79 540.76H176.99 M175.79 537.47H176.99 M175.79 535.14H176.99 M175.79 533.33H176.99 M175.79 531.85H176.99 M175.79 530.6H176.99 M175.79 529.52H176.99 M175.79 528.56H176.99 M174.79 527.71H176.99 M175.79 522.09H176.99 M175.79 518.8H176.99 M175.79 516.47H176.99 M175.79 514.66H176.99 M175.79 513.18H176.99 M175.79 511.93H176.99 M175.79 510.85H176.99 M175.79 509.89H176.99 M174.79 509.04H176.99 M175.79 503.42H176.99 M175.79 500.13H176.99 M175.79 497.8H176.99 M175.79 495.99H176.99 M175.79 494.51H176.99 M175.79 493.26H176.99 M175.79 492.18H176.99 M175.79 491.22H176.99 M174.79 490.37H176.99 M175.79 484.75H176.99 M175.79 481.46H176.99 M175.79 479.13H176.99 M175.79 477.32H176.99 M175.79 475.84H176.99 M175.79 474.59H176.99 M175.79 473.51H176.99 M175.79 472.55H176.99 M174.79 471.7H176.99 M175.79 466.08H176.99 M175.79 462.79H176.99 M175.79 460.46H176.99 M175.79 458.65H176.99 M175.79 457.17H176.99 M175.79 455.92H176.99 M175.79 454.84H176.99 M175.79 453.88H176.99 M174.79 453.03H176.99 M175.79 447.41H176.99 M175.79 444.12H176.99 M175.79 441.79H176.99 M175.79 439.98H176.99 M175.79 438.5H176.99 M175.79 437.25H176.99 M175.79 436.17H176.99 M175.79 435.21H176.99 M174.79 434.36H176.99 M175.79 552H176.99 M175.79 550.52H176.99 M175.79 549.27H176.99 M175.79 548.19H176.99 M175.79 547.23H176.99 M187.5 552V554.2 M198.01 552V553.2 M208.52 552V554.2 M219.03 552V553.2 M229.54 552V554.2 M240.05 552V553.2 M250.56 552V554.2 M261.07 552V553.2 M271.58 552V554.2 M282.09 552V553.2 M292.6 552V554.2 M303.11 552V553.2 M313.62 552V554.2" stroke="#7a7a7a" stroke-width="0.9" fill="none"/>
<text x="187.5" y="563" font-size="9.8" text-anchor="middle" textLength="4.95" lengthAdjust="spacingAndGlyphs" fill="#222" stroke="#222" stroke-width="0.22">0</text>
<text x="208.52" y="563" font-size="9.8" text-anchor="middle" textLength="4.95" lengthAdjust="spacingAndGlyphs" fill="#222" stroke="#222" stroke-width="0.22">2</text>
<text x="229.54" y="563" font-size="9.8" text-anchor="middle" textLength="4.95" lengthAdjust="spacingAndGlyphs" fill="#222" stroke="#222" stroke-width="0.22">4</text>
<text x="250.56" y="563" font-size="9.8" text-anchor="middle" textLength="4.95" lengthAdjust="spacingAndGlyphs" fill="#222" stroke="#222" stroke-width="0.22">6</text>
<text x="271.58" y="563" font-size="9.8" text-anchor="middle" textLength="4.95" lengthAdjust="spacingAndGlyphs" fill="#222" stroke="#222" stroke-width="0.22">8</text>
<text x="292.6" y="563" font-size="9.8" text-anchor="middle" textLength="9.9" lengthAdjust="spacingAndGlyphs" fill="#222" stroke="#222" stroke-width="0.22">10</text>
<text x="313.62" y="563" font-size="9.8" text-anchor="middle" textLength="9.9" lengthAdjust="spacingAndGlyphs" fill="#222" stroke="#222" stroke-width="0.22">12</text>
<text x="250.56" y="577" font-size="10" text-anchor="middle" textLength="104" lengthAdjust="spacingAndGlyphs" fill="#222" stroke="#222" stroke-width="0.22">Concentration of HCl (M)</text>
<text transform="translate(148.69 498.28) rotate(-90)" x="0" y="0" font-size="9.8" text-anchor="middle" textLength="119.3" lengthAdjust="spacingAndGlyphs" fill="#222" stroke="#222" stroke-width="0.22">Distribution Coefficients (K<tspan font-size="6.8" dy="2">D</tspan><tspan dy="-2">)</tspan></text>
<text x="182.2" y="451.2" font-size="19.13" font-weight="bold" textLength="71" lengthAdjust="spacingAndGlyphs" fill="#0a0a0a">DPE-71</text>
<path d="M292.6 445.3V552" stroke="#6a8fec" stroke-width="0.9"/>
<path d="M192.75 505.5V552" stroke="#a9507f" stroke-width="0.9"/>
<rect x="290.6" y="443.3" width="4" height="4" fill="#fff" stroke="#1a48ec" stroke-width="1.15"/>
<rect x="269.58" y="463" width="4" height="4" fill="#fff" stroke="#1a48ec" stroke-width="1.15"/>
<rect x="248.56" y="492.6" width="4" height="4" fill="#fff" stroke="#1a48ec" stroke-width="1.15"/>
<rect x="186.03" y="528.7" width="4" height="4" fill="#fff" stroke="#1a48ec" stroke-width="1.15"/>
<rect x="190.75" y="527" width="4" height="4" fill="#fff" stroke="#1a48ec" stroke-width="1.15"/>
<rect x="196.01" y="513.8" width="4" height="4" fill="#fff" stroke="#1a48ec" stroke-width="1.15"/>
<rect x="206.52" y="510.1" width="4" height="4" fill="#fff" stroke="#1a48ec" stroke-width="1.15"/>
<rect x="217.03" y="511.2" width="4" height="4" fill="#fff" stroke="#1a48ec" stroke-width="1.15"/>
<rect x="290.5" y="456.8" width="4.2" height="4.2" fill="#fff" stroke="#6a98f2" stroke-width="0.9"/><path d="M292.6 456.8V461M290.5 458.9H294.7" stroke="#6a98f2" stroke-width="0.8"/>
<rect x="311.52" y="452" width="4.2" height="4.2" fill="#fff" stroke="#6a98f2" stroke-width="0.9"/><path d="M313.62 452V456.2M311.52 454.1H315.72" stroke="#6a98f2" stroke-width="0.8"/>
<rect x="185.53" y="499.3" width="5" height="5" fill="#1450ea"/>
<rect x="190.25" y="495.8" width="5" height="5" fill="#1450ea"/>
<rect x="195.51" y="493.6" width="5" height="5" fill="#1450ea"/>
<rect x="206.02" y="493.2" width="5" height="5" fill="#1450ea"/>
<rect x="216.53" y="495.4" width="5" height="5" fill="#1450ea"/>
<rect x="248.06" y="482.2" width="5" height="5" fill="#1450ea"/>
<rect x="269.08" y="465.8" width="5" height="5" fill="#1450ea"/>
<rect x="290.1" y="472" width="5" height="5" fill="#1450ea"/>
<rect x="311.12" y="465.8" width="5" height="5" fill="#1450ea"/>
<path d="M188.03 543.7L190.63 548.3H185.43Z" fill="#fff" stroke="#dc2a84" stroke-width="1.15" stroke-linejoin="miter"/>
<path d="M188.03 531.7L190.63 536.3H185.43Z" fill="#fff" stroke="#dc2a84" stroke-width="1.15" stroke-linejoin="miter"/>
<path d="M192.75 528L195.35 532.6H190.16Z" fill="#fff" stroke="#dc2a84" stroke-width="1.15" stroke-linejoin="miter"/>
<path d="M198.01 513.1L200.61 517.7H195.41Z" fill="#fff" stroke="#dc2a84" stroke-width="1.15" stroke-linejoin="miter"/>
<path d="M208.52 509.2L211.12 513.8H205.92Z" fill="#fff" stroke="#dc2a84" stroke-width="1.15" stroke-linejoin="miter"/>
<path d="M219.03 509.2L221.63 513.8H216.43Z" fill="#fff" stroke="#dc2a84" stroke-width="1.15" stroke-linejoin="miter"/>
<path d="M250.56 512L253.16 516.6H247.96Z" fill="#fff" stroke="#dc2a84" stroke-width="1.15" stroke-linejoin="miter"/>
<path d="M271.58 504.8L274.18 509.4H268.98Z" fill="#fff" stroke="#dc2a84" stroke-width="1.15" stroke-linejoin="miter"/>
<path d="M292.6 503.2L295.2 507.8H290Z" fill="#fff" stroke="#dc2a84" stroke-width="1.15" stroke-linejoin="miter"/>
<path d="M188.03 512.5L191.43 518.3H184.63Z" fill="#961758"/>
<path d="M192.75 502.6L196.16 508.4H189.35Z" fill="#961758"/>
<path d="M198.01 498.3L201.41 504.1H194.61Z" fill="#961758"/>
<path d="M208.52 497.2L211.92 503H205.12Z" fill="#961758"/>
<path d="M219.03 505.5L222.43 511.3H215.63Z" fill="#961758"/>
<path d="M250.56 497.2L253.96 503H247.16Z" fill="#961758"/>
<path d="M271.58 499.4L274.98 505.2H268.18Z" fill="#961758"/>
<path d="M292.6 501.5L296 507.3H289.2Z" fill="#961758"/>
<path d="M313.62 497.2L317.02 503H310.22Z" fill="#961758"/>
<line x1="393.49" y1="477.32" x2="540.63" y2="477.32" stroke="#959595" stroke-width="1.2" stroke-dasharray="4.1 3.4"/>
<text x="541.73" y="481.42" font-size="10" textLength="16.0" lengthAdjust="spacingAndGlyphs" fill="#222" stroke="#222" stroke-width="0.22">500</text>
<line x1="393.49" y1="495.99" x2="540.63" y2="495.99" stroke="#959595" stroke-width="1.2" stroke-dasharray="4.1 3.4"/>
<text x="541.73" y="500.09" font-size="10" textLength="10.2" lengthAdjust="spacingAndGlyphs" fill="#222" stroke="#222" stroke-width="0.22">50</text>
<path d="M393.49 433.76V552H541.23" fill="none" stroke="#7a7a7a" stroke-width="1.4"/>
<text x="390.29" y="548.68" font-size="7.5" text-anchor="end" textLength="9.74" lengthAdjust="spacingAndGlyphs" fill="#222" stroke="#222" stroke-width="0.22">0.1</text>
<text x="390.29" y="530.01" font-size="7.5" text-anchor="end" textLength="3.9" lengthAdjust="spacingAndGlyphs" fill="#222" stroke="#222" stroke-width="0.22">1</text>
<text x="390.29" y="511.34" font-size="7.5" text-anchor="end" textLength="7.79" lengthAdjust="spacingAndGlyphs" fill="#222" stroke="#222" stroke-width="0.22">10</text>
<text x="390.29" y="492.67" font-size="7.5" text-anchor="end" textLength="11.69" lengthAdjust="spacingAndGlyphs" fill="#222" stroke="#222" stroke-width="0.22">100</text>
<text x="390.29" y="474" font-size="7.5" text-anchor="end" textLength="15.58" lengthAdjust="spacingAndGlyphs" fill="#222" stroke="#222" stroke-width="0.22">1000</text>
<text x="390.29" y="455.33" font-size="7.5" text-anchor="end" textLength="19.48" lengthAdjust="spacingAndGlyphs" fill="#222" stroke="#222" stroke-width="0.22">10000</text>
<text x="390.29" y="436.66" font-size="7.5" text-anchor="end" textLength="23.37" lengthAdjust="spacingAndGlyphs" fill="#222" stroke="#222" stroke-width="0.22">100000</text>
<path d="M391.29 546.38H393.49 M392.29 540.76H393.49 M392.29 537.47H393.49 M392.29 535.14H393.49 M392.29 533.33H393.49 M392.29 531.85H393.49 M392.29 530.6H393.49 M392.29 529.52H393.49 M392.29 528.56H393.49 M391.29 527.71H393.49 M392.29 522.09H393.49 M392.29 518.8H393.49 M392.29 516.47H393.49 M392.29 514.66H393.49 M392.29 513.18H393.49 M392.29 511.93H393.49 M392.29 510.85H393.49 M392.29 509.89H393.49 M391.29 509.04H393.49 M392.29 503.42H393.49 M392.29 500.13H393.49 M392.29 497.8H393.49 M392.29 495.99H393.49 M392.29 494.51H393.49 M392.29 493.26H393.49 M392.29 492.18H393.49 M392.29 491.22H393.49 M391.29 490.37H393.49 M392.29 484.75H393.49 M392.29 481.46H393.49 M392.29 479.13H393.49 M392.29 477.32H393.49 M392.29 475.84H393.49 M392.29 474.59H393.49 M392.29 473.51H393.49 M392.29 472.55H393.49 M391.29 471.7H393.49 M392.29 466.08H393.49 M392.29 462.79H393.49 M392.29 460.46H393.49 M392.29 458.65H393.49 M392.29 457.17H393.49 M392.29 455.92H393.49 M392.29 454.84H393.49 M392.29 453.88H393.49 M391.29 453.03H393.49 M392.29 447.41H393.49 M392.29 444.12H393.49 M392.29 441.79H393.49 M392.29 439.98H393.49 M392.29 438.5H393.49 M392.29 437.25H393.49 M392.29 436.17H393.49 M392.29 435.21H393.49 M391.29 434.36H393.49 M392.29 552H393.49 M392.29 550.52H393.49 M392.29 549.27H393.49 M392.29 548.19H393.49 M392.29 547.23H393.49 M404 552V554.2 M414.51 552V553.2 M425.02 552V554.2 M435.53 552V553.2 M446.04 552V554.2 M456.55 552V553.2 M467.06 552V554.2 M477.57 552V553.2 M488.08 552V554.2 M498.59 552V553.2 M509.1 552V554.2 M519.61 552V553.2 M530.12 552V554.2" stroke="#7a7a7a" stroke-width="0.9" fill="none"/>
<text x="404" y="563" font-size="9.8" text-anchor="middle" textLength="4.95" lengthAdjust="spacingAndGlyphs" fill="#222" stroke="#222" stroke-width="0.22">0</text>
<text x="425.02" y="563" font-size="9.8" text-anchor="middle" textLength="4.95" lengthAdjust="spacingAndGlyphs" fill="#222" stroke="#222" stroke-width="0.22">2</text>
<text x="446.04" y="563" font-size="9.8" text-anchor="middle" textLength="4.95" lengthAdjust="spacingAndGlyphs" fill="#222" stroke="#222" stroke-width="0.22">4</text>
<text x="467.06" y="563" font-size="9.8" text-anchor="middle" textLength="4.95" lengthAdjust="spacingAndGlyphs" fill="#222" stroke="#222" stroke-width="0.22">6</text>
<text x="488.08" y="563" font-size="9.8" text-anchor="middle" textLength="4.95" lengthAdjust="spacingAndGlyphs" fill="#222" stroke="#222" stroke-width="0.22">8</text>
<text x="509.1" y="563" font-size="9.8" text-anchor="middle" textLength="9.9" lengthAdjust="spacingAndGlyphs" fill="#222" stroke="#222" stroke-width="0.22">10</text>
<text x="530.12" y="563" font-size="9.8" text-anchor="middle" textLength="9.9" lengthAdjust="spacingAndGlyphs" fill="#222" stroke="#222" stroke-width="0.22">12</text>
<text x="467.06" y="577" font-size="10" text-anchor="middle" textLength="104" lengthAdjust="spacingAndGlyphs" fill="#222" stroke="#222" stroke-width="0.22">Concentration of HCl (M)</text>
<text transform="translate(365.19 498.28) rotate(-90)" x="0" y="0" font-size="9.8" text-anchor="middle" textLength="119.3" lengthAdjust="spacingAndGlyphs" fill="#222" stroke="#222" stroke-width="0.22">Distribution Coefficients (K<tspan font-size="6.8" dy="2">D</tspan><tspan dy="-2">)</tspan></text>
<text x="399.2" y="451.2" font-size="18.72" font-weight="bold" textLength="84.7" lengthAdjust="spacingAndGlyphs" fill="#0a0a0a">DPE-300</text>
<path d="M467.06 534V552" stroke="#d8689e" stroke-width="0.9"/>
<path d="M466.06 534h2" stroke="#d8689e" stroke-width="0.9"/>
<path d="M488.08 538V552" stroke="#d8689e" stroke-width="0.9"/>
<path d="M487.08 538h2" stroke="#d8689e" stroke-width="0.9"/>
<path d="M509.1 538V552" stroke="#d8689e" stroke-width="0.9"/>
<path d="M508.1 538h2" stroke="#d8689e" stroke-width="0.9"/>
<path d="M404.53 522V552" stroke="#a9507f" stroke-width="0.9"/>
<path d="M403.53 522h2" stroke="#a9507f" stroke-width="0.9"/>
<path d="M409.25 520V552" stroke="#a9507f" stroke-width="0.9"/>
<path d="M408.25 520h2" stroke="#a9507f" stroke-width="0.9"/>
<path d="M414.51 521V540" stroke="#a9507f" stroke-width="0.9"/>
<path d="M413.51 521h2 M413.51 540h2" stroke="#a9507f" stroke-width="0.9"/>
<path d="M425.02 521V552" stroke="#a9507f" stroke-width="0.9"/>
<path d="M424.02 521h2" stroke="#a9507f" stroke-width="0.9"/>
<path d="M509.1 515V544" stroke="#a9507f" stroke-width="0.9"/>
<path d="M508.1 515h2 M508.1 544h2" stroke="#a9507f" stroke-width="0.9"/>
<path d="M530.12 503V540" stroke="#a9507f" stroke-width="0.9"/>
<path d="M529.12 503h2 M529.12 540h2" stroke="#a9507f" stroke-width="0.9"/>
<rect x="486.08" y="495.4" width="4" height="4" fill="#fff" stroke="#1a48ec" stroke-width="1.15"/>
<rect x="507.1" y="463.5" width="4" height="4" fill="#fff" stroke="#1a48ec" stroke-width="1.15"/>
<rect x="465.06" y="516.7" width="4" height="4" fill="#fff" stroke="#1a48ec" stroke-width="1.15"/>
<rect x="485.98" y="487.5" width="4.2" height="4.2" fill="#fff" stroke="#6a98f2" stroke-width="0.9"/><path d="M488.08 487.5V491.7M485.98 489.6H490.18" stroke="#6a98f2" stroke-width="0.8"/>
<rect x="507" y="465.1" width="4.2" height="4.2" fill="#fff" stroke="#6a98f2" stroke-width="0.9"/><path d="M509.1 465.1V469.3M507 467.2H511.2" stroke="#6a98f2" stroke-width="0.8"/>
<rect x="528.02" y="478.9" width="4.2" height="4.2" fill="#fff" stroke="#6a98f2" stroke-width="0.9"/><path d="M530.12 478.9V483.1M528.02 481H532.22" stroke="#6a98f2" stroke-width="0.8"/>
<rect x="402.03" y="506.3" width="5" height="5" fill="#1450ea"/>
<rect x="406.75" y="498.7" width="5" height="5" fill="#1450ea"/>
<rect x="412.01" y="497.1" width="5" height="5" fill="#1450ea"/>
<rect x="422.52" y="496.5" width="5" height="5" fill="#1450ea"/>
<rect x="433.03" y="497.1" width="5" height="5" fill="#1450ea"/>
<rect x="464.56" y="497.1" width="5" height="5" fill="#1450ea"/>
<rect x="485.58" y="491" width="5" height="5" fill="#1450ea"/>
<rect x="506.6" y="479" width="5" height="5" fill="#1450ea"/>
<rect x="527.62" y="470.9" width="5" height="5" fill="#1450ea"/>
<path d="M404.53 541.6L407.13 546.2H401.93Z" fill="#fff" stroke="#dc2a84" stroke-width="1.15" stroke-linejoin="miter"/>
<path d="M409.25 541.6L411.86 546.2H406.65Z" fill="#fff" stroke="#dc2a84" stroke-width="1.15" stroke-linejoin="miter"/>
<path d="M414.51 542.2L417.11 546.8H411.91Z" fill="#fff" stroke="#dc2a84" stroke-width="1.15" stroke-linejoin="miter"/>
<path d="M435.53 542.7L438.13 547.3H432.93Z" fill="#fff" stroke="#dc2a84" stroke-width="1.15" stroke-linejoin="miter"/>
<path d="M467.06 536.7L469.66 541.3H464.46Z" fill="#fff" stroke="#dc2a84" stroke-width="1.15" stroke-linejoin="miter"/>
<path d="M488.08 540.5L490.68 545.1H485.48Z" fill="#fff" stroke="#dc2a84" stroke-width="1.15" stroke-linejoin="miter"/>
<path d="M509.1 540.5L511.7 545.1H506.5Z" fill="#fff" stroke="#dc2a84" stroke-width="1.15" stroke-linejoin="miter"/>
<path d="M404.53 525.6L407.93 531.4H401.13Z" fill="#961758"/>
<path d="M409.25 523L412.65 528.8H405.86Z" fill="#961758"/>
<path d="M414.51 522.3L417.91 528.1H411.11Z" fill="#961758"/>
<path d="M425.02 525.2L428.42 531H421.62Z" fill="#961758"/>
<path d="M435.53 513.6L438.93 519.4H432.13Z" fill="#961758"/>
<path d="M467.06 510.7L470.46 516.5H463.66Z" fill="#961758"/>
<path d="M488.08 511.4L491.48 517.2H484.68Z" fill="#961758"/>
<path d="M509.1 517.5L512.5 523.3H505.7Z" fill="#961758"/>
<path d="M530.12 504.8L533.52 510.6H526.72Z" fill="#961758"/>
<line x1="176.99" y1="635.62" x2="324.13" y2="635.62" stroke="#959595" stroke-width="1.2" stroke-dasharray="4.1 3.4"/>
<text x="325.23" y="639.72" font-size="10" textLength="16.0" lengthAdjust="spacingAndGlyphs" fill="#222" stroke="#222" stroke-width="0.22">500</text>
<line x1="176.99" y1="654.29" x2="324.13" y2="654.29" stroke="#959595" stroke-width="1.2" stroke-dasharray="4.1 3.4"/>
<text x="325.23" y="658.39" font-size="10" textLength="10.2" lengthAdjust="spacingAndGlyphs" fill="#222" stroke="#222" stroke-width="0.22">50</text>
<path d="M176.99 592.06V710.3H324.73" fill="none" stroke="#7a7a7a" stroke-width="1.4"/>
<text x="173.79" y="706.98" font-size="7.5" text-anchor="end" textLength="9.74" lengthAdjust="spacingAndGlyphs" fill="#222" stroke="#222" stroke-width="0.22">0.1</text>
<text x="173.79" y="688.31" font-size="7.5" text-anchor="end" textLength="3.9" lengthAdjust="spacingAndGlyphs" fill="#222" stroke="#222" stroke-width="0.22">1</text>
<text x="173.79" y="669.64" font-size="7.5" text-anchor="end" textLength="7.79" lengthAdjust="spacingAndGlyphs" fill="#222" stroke="#222" stroke-width="0.22">10</text>
<text x="173.79" y="650.97" font-size="7.5" text-anchor="end" textLength="11.69" lengthAdjust="spacingAndGlyphs" fill="#222" stroke="#222" stroke-width="0.22">100</text>
<text x="173.79" y="632.3" font-size="7.5" text-anchor="end" textLength="15.58" lengthAdjust="spacingAndGlyphs" fill="#222" stroke="#222" stroke-width="0.22">1000</text>
<text x="173.79" y="613.63" font-size="7.5" text-anchor="end" textLength="19.48" lengthAdjust="spacingAndGlyphs" fill="#222" stroke="#222" stroke-width="0.22">10000</text>
<text x="173.79" y="594.96" font-size="7.5" text-anchor="end" textLength="23.37" lengthAdjust="spacingAndGlyphs" fill="#222" stroke="#222" stroke-width="0.22">100000</text>
<path d="M174.79 704.68H176.99 M175.79 699.06H176.99 M175.79 695.77H176.99 M175.79 693.44H176.99 M175.79 691.63H176.99 M175.79 690.15H176.99 M175.79 688.9H176.99 M175.79 687.82H176.99 M175.79 686.86H176.99 M174.79 686.01H176.99 M175.79 680.39H176.99 M175.79 677.1H176.99 M175.79 674.77H176.99 M175.79 672.96H176.99 M175.79 671.48H176.99 M175.79 670.23H176.99 M175.79 669.15H176.99 M175.79 668.19H176.99 M174.79 667.34H176.99 M175.79 661.72H176.99 M175.79 658.43H176.99 M175.79 656.1H176.99 M175.79 654.29H176.99 M175.79 652.81H176.99 M175.79 651.56H176.99 M175.79 650.48H176.99 M175.79 649.52H176.99 M174.79 648.67H176.99 M175.79 643.05H176.99 M175.79 639.76H176.99 M175.79 637.43H176.99 M175.79 635.62H176.99 M175.79 634.14H176.99 M175.79 632.89H176.99 M175.79 631.81H176.99 M175.79 630.85H176.99 M174.79 630H176.99 M175.79 624.38H176.99 M175.79 621.09H176.99 M175.79 618.76H176.99 M175.79 616.95H176.99 M175.79 615.47H176.99 M175.79 614.22H176.99 M175.79 613.14H176.99 M175.79 612.18H176.99 M174.79 611.33H176.99 M175.79 605.71H176.99 M175.79 602.42H176.99 M175.79 600.09H176.99 M175.79 598.28H176.99 M175.79 596.8H176.99 M175.79 595.55H176.99 M175.79 594.47H176.99 M175.79 593.51H176.99 M174.79 592.66H176.99 M175.79 710.3H176.99 M175.79 708.82H176.99 M175.79 707.57H176.99 M175.79 706.49H176.99 M175.79 705.53H176.99 M187.5 710.3V712.5 M198.01 710.3V711.5 M208.52 710.3V712.5 M219.03 710.3V711.5 M229.54 710.3V712.5 M240.05 710.3V711.5 M250.56 710.3V712.5 M261.07 710.3V711.5 M271.58 710.3V712.5 M282.09 710.3V711.5 M292.6 710.3V712.5 M303.11 710.3V711.5 M313.62 710.3V712.5" stroke="#7a7a7a" stroke-width="0.9" fill="none"/>
<text x="187.5" y="721.3" font-size="9.8" text-anchor="middle" textLength="4.95" lengthAdjust="spacingAndGlyphs" fill="#222" stroke="#222" stroke-width="0.22">0</text>
<text x="208.52" y="721.3" font-size="9.8" text-anchor="middle" textLength="4.95" lengthAdjust="spacingAndGlyphs" fill="#222" stroke="#222" stroke-width="0.22">2</text>
<text x="229.54" y="721.3" font-size="9.8" text-anchor="middle" textLength="4.95" lengthAdjust="spacingAndGlyphs" fill="#222" stroke="#222" stroke-width="0.22">4</text>
<text x="250.56" y="721.3" font-size="9.8" text-anchor="middle" textLength="4.95" lengthAdjust="spacingAndGlyphs" fill="#222" stroke="#222" stroke-width="0.22">6</text>
<text x="271.58" y="721.3" font-size="9.8" text-anchor="middle" textLength="4.95" lengthAdjust="spacingAndGlyphs" fill="#222" stroke="#222" stroke-width="0.22">8</text>
<text x="292.6" y="721.3" font-size="9.8" text-anchor="middle" textLength="9.9" lengthAdjust="spacingAndGlyphs" fill="#222" stroke="#222" stroke-width="0.22">10</text>
<text x="313.62" y="721.3" font-size="9.8" text-anchor="middle" textLength="9.9" lengthAdjust="spacingAndGlyphs" fill="#222" stroke="#222" stroke-width="0.22">12</text>
<text x="250.56" y="735.3" font-size="10" text-anchor="middle" textLength="104" lengthAdjust="spacingAndGlyphs" fill="#222" stroke="#222" stroke-width="0.22">Concentration of HCl (M)</text>
<text transform="translate(148.69 656.58) rotate(-90)" x="0" y="0" font-size="9.8" text-anchor="middle" textLength="119.3" lengthAdjust="spacingAndGlyphs" fill="#222" stroke="#222" stroke-width="0.22">Distribution Coefficients (K<tspan font-size="6.8" dy="2">D</tspan><tspan dy="-2">)</tspan></text>
<text x="182.2" y="609.9" font-size="19.55" font-weight="bold" textLength="73.9" lengthAdjust="spacingAndGlyphs" fill="#0a0a0a">DOE-71</text>
<path d="M292.6 608V677" stroke="#6a8fec" stroke-width="0.9"/>
<path d="M291.6 677h2" stroke="#6a8fec" stroke-width="0.9"/>
<path d="M208.52 681V697" stroke="#6a8fec" stroke-width="0.9"/>
<path d="M207.52 681h2 M207.52 697h2" stroke="#6a8fec" stroke-width="0.9"/>
<path d="M219.03 691.8V700.5" stroke="#6a8fec" stroke-width="0.9"/>
<path d="M218.03 700.5h2" stroke="#6a8fec" stroke-width="0.9"/>
<path d="M271.58 634.9V641.5" stroke="#6a8fec" stroke-width="0.9"/>
<path d="M270.58 641.5h2" stroke="#6a8fec" stroke-width="0.9"/>
<path d="M313.62 620.7V634.9" stroke="#6a8fec" stroke-width="0.9"/>
<path d="M312.62 620.7h2 M312.62 634.9h2" stroke="#6a8fec" stroke-width="0.9"/>
<path d="M188.03 676.5V710.3" stroke="#d8689e" stroke-width="0.9"/>
<path d="M187.03 676.5h2" stroke="#d8689e" stroke-width="0.9"/>
<path d="M208.52 692.9V710.3" stroke="#d8689e" stroke-width="0.9"/>
<path d="M250.56 683V710.3" stroke="#d8689e" stroke-width="0.9"/>
<path d="M249.56 683h2" stroke="#d8689e" stroke-width="0.9"/>
<path d="M192.75 678.7V710.3" stroke="#a9507f" stroke-width="0.9"/>
<path d="M191.75 678.7h2" stroke="#a9507f" stroke-width="0.9"/>
<path d="M198.01 664.5V678.7" stroke="#a9507f" stroke-width="0.9"/>
<path d="M197.01 664.5h2 M197.01 678.7h2" stroke="#a9507f" stroke-width="0.9"/>
<path d="M250.56 664.5V676.5" stroke="#a9507f" stroke-width="0.9"/>
<path d="M249.56 664.5h2 M249.56 676.5h2" stroke="#a9507f" stroke-width="0.9"/>
<path d="M271.58 674.3V690.7" stroke="#a9507f" stroke-width="0.9"/>
<path d="M270.58 674.3h2 M270.58 690.7h2" stroke="#a9507f" stroke-width="0.9"/>
<path d="M292.6 665.5V710.3" stroke="#a9507f" stroke-width="0.9"/>
<path d="M291.6 665.5h2" stroke="#a9507f" stroke-width="0.9"/>
<rect x="290.6" y="606" width="4" height="4" fill="#fff" stroke="#1a48ec" stroke-width="1.15"/>
<rect x="269.58" y="630.7" width="4" height="4" fill="#fff" stroke="#1a48ec" stroke-width="1.15"/>
<rect x="248.56" y="660.3" width="4" height="4" fill="#fff" stroke="#1a48ec" stroke-width="1.15"/>
<rect x="186.03" y="689.2" width="4" height="4" fill="#fff" stroke="#1a48ec" stroke-width="1.15"/>
<rect x="206.52" y="687.6" width="4" height="4" fill="#fff" stroke="#1a48ec" stroke-width="1.15"/>
<rect x="217.03" y="689.8" width="4" height="4" fill="#fff" stroke="#1a48ec" stroke-width="1.15"/>
<rect x="311.52" y="610.2" width="4.2" height="4.2" fill="#fff" stroke="#6a98f2" stroke-width="0.9"/><path d="M313.62 610.2V614.4M311.52 612.3H315.72" stroke="#6a98f2" stroke-width="0.8"/>
<rect x="290.5" y="615.3" width="4.2" height="4.2" fill="#fff" stroke="#6a98f2" stroke-width="0.9"/><path d="M292.6 615.3V619.5M290.5 617.4H294.7" stroke="#6a98f2" stroke-width="0.8"/>
<rect x="269.48" y="624" width="4.2" height="4.2" fill="#fff" stroke="#6a98f2" stroke-width="0.9"/><path d="M271.58 624V628.2M269.48 626.1H273.68" stroke="#6a98f2" stroke-width="0.8"/>
<rect x="248.46" y="641.5" width="4.2" height="4.2" fill="#fff" stroke="#6a98f2" stroke-width="0.9"/><path d="M250.56 641.5V645.7M248.46 643.6H252.66" stroke="#6a98f2" stroke-width="0.8"/>
<rect x="185.53" y="659.3" width="5" height="5" fill="#1450ea"/>
<rect x="190.25" y="652.1" width="5" height="5" fill="#1450ea"/>
<rect x="195.51" y="651" width="5" height="5" fill="#1450ea"/>
<rect x="206.02" y="650.3" width="5" height="5" fill="#1450ea"/>
<rect x="216.53" y="651.4" width="5" height="5" fill="#1450ea"/>
<rect x="248.06" y="647.1" width="5" height="5" fill="#1450ea"/>
<rect x="269.08" y="632.4" width="5" height="5" fill="#1450ea"/>
<rect x="290.1" y="641.1" width="5" height="5" fill="#1450ea"/>
<rect x="311.12" y="623" width="5" height="5" fill="#1450ea"/>
<path d="M188.03 690.2L190.63 694.8H185.43Z" fill="#fff" stroke="#dc2a84" stroke-width="1.15" stroke-linejoin="miter"/>
<path d="M188.03 705.3L190.63 709.9H185.43Z" fill="#fff" stroke="#dc2a84" stroke-width="1.15" stroke-linejoin="miter"/>
<path d="M192.75 704.8L195.35 709.4H190.16Z" fill="#fff" stroke="#dc2a84" stroke-width="1.15" stroke-linejoin="miter"/>
<path d="M198.01 705.5L200.61 710.1H195.41Z" fill="#fff" stroke="#dc2a84" stroke-width="1.15" stroke-linejoin="miter"/>
<path d="M208.52 690.6L211.12 695.2H205.92Z" fill="#fff" stroke="#dc2a84" stroke-width="1.15" stroke-linejoin="miter"/>
<path d="M219.03 687.3L221.63 691.9H216.43Z" fill="#fff" stroke="#dc2a84" stroke-width="1.15" stroke-linejoin="miter"/>
<path d="M250.56 688L253.16 692.6H247.96Z" fill="#fff" stroke="#dc2a84" stroke-width="1.15" stroke-linejoin="miter"/>
<path d="M271.58 707L274.18 711.6H268.98Z" fill="#fff" stroke="#dc2a84" stroke-width="1.15" stroke-linejoin="miter"/>
<path d="M292.6 675.3L295.2 679.9H290Z" fill="#fff" stroke="#dc2a84" stroke-width="1.15" stroke-linejoin="miter"/>
<path d="M188.03 680.2L191.43 686H184.63Z" fill="#961758"/>
<path d="M192.75 682.3L196.16 688.1H189.35Z" fill="#961758"/>
<path d="M198.01 664.8L201.41 670.6H194.61Z" fill="#961758"/>
<path d="M208.52 666.4L211.92 672.2H205.12Z" fill="#961758"/>
<path d="M219.03 674L222.43 679.8H215.63Z" fill="#961758"/>
<path d="M250.56 664.8L253.96 670.6H247.16Z" fill="#961758"/>
<path d="M271.58 675.3L274.98 681.1H268.18Z" fill="#961758"/>
<path d="M292.6 669.2L296 675H289.2Z" fill="#961758"/>
<path d="M313.62 664.8L317.02 670.6H310.22Z" fill="#961758"/>
<line x1="393.49" y1="635.62" x2="540.63" y2="635.62" stroke="#959595" stroke-width="1.2" stroke-dasharray="4.1 3.4"/>
<text x="541.73" y="639.72" font-size="10" textLength="16.0" lengthAdjust="spacingAndGlyphs" fill="#222" stroke="#222" stroke-width="0.22">500</text>
<line x1="393.49" y1="654.29" x2="540.63" y2="654.29" stroke="#959595" stroke-width="1.2" stroke-dasharray="4.1 3.4"/>
<text x="541.73" y="658.39" font-size="10" textLength="10.2" lengthAdjust="spacingAndGlyphs" fill="#222" stroke="#222" stroke-width="0.22">50</text>
<path d="M393.49 592.06V710.3H541.23" fill="none" stroke="#7a7a7a" stroke-width="1.4"/>
<text x="390.29" y="706.98" font-size="7.5" text-anchor="end" textLength="9.74" lengthAdjust="spacingAndGlyphs" fill="#222" stroke="#222" stroke-width="0.22">0.1</text>
<text x="390.29" y="688.31" font-size="7.5" text-anchor="end" textLength="3.9" lengthAdjust="spacingAndGlyphs" fill="#222" stroke="#222" stroke-width="0.22">1</text>
<text x="390.29" y="669.64" font-size="7.5" text-anchor="end" textLength="7.79" lengthAdjust="spacingAndGlyphs" fill="#222" stroke="#222" stroke-width="0.22">10</text>
<text x="390.29" y="650.97" font-size="7.5" text-anchor="end" textLength="11.69" lengthAdjust="spacingAndGlyphs" fill="#222" stroke="#222" stroke-width="0.22">100</text>
<text x="390.29" y="632.3" font-size="7.5" text-anchor="end" textLength="15.58" lengthAdjust="spacingAndGlyphs" fill="#222" stroke="#222" stroke-width="0.22">1000</text>
<text x="390.29" y="613.63" font-size="7.5" text-anchor="end" textLength="19.48" lengthAdjust="spacingAndGlyphs" fill="#222" stroke="#222" stroke-width="0.22">10000</text>
<text x="390.29" y="594.96" font-size="7.5" text-anchor="end" textLength="23.37" lengthAdjust="spacingAndGlyphs" fill="#222" stroke="#222" stroke-width="0.22">100000</text>
<path d="M391.29 704.68H393.49 M392.29 699.06H393.49 M392.29 695.77H393.49 M392.29 693.44H393.49 M392.29 691.63H393.49 M392.29 690.15H393.49 M392.29 688.9H393.49 M392.29 687.82H393.49 M392.29 686.86H393.49 M391.29 686.01H393.49 M392.29 680.39H393.49 M392.29 677.1H393.49 M392.29 674.77H393.49 M392.29 672.96H393.49 M392.29 671.48H393.49 M392.29 670.23H393.49 M392.29 669.15H393.49 M392.29 668.19H393.49 M391.29 667.34H393.49 M392.29 661.72H393.49 M392.29 658.43H393.49 M392.29 656.1H393.49 M392.29 654.29H393.49 M392.29 652.81H393.49 M392.29 651.56H393.49 M392.29 650.48H393.49 M392.29 649.52H393.49 M391.29 648.67H393.49 M392.29 643.05H393.49 M392.29 639.76H393.49 M392.29 637.43H393.49 M392.29 635.62H393.49 M392.29 634.14H393.49 M392.29 632.89H393.49 M392.29 631.81H393.49 M392.29 630.85H393.49 M391.29 630H393.49 M392.29 624.38H393.49 M392.29 621.09H393.49 M392.29 618.76H393.49 M392.29 616.95H393.49 M392.29 615.47H393.49 M392.29 614.22H393.49 M392.29 613.14H393.49 M392.29 612.18H393.49 M391.29 611.33H393.49 M392.29 605.71H393.49 M392.29 602.42H393.49 M392.29 600.09H393.49 M392.29 598.28H393.49 M392.29 596.8H393.49 M392.29 595.55H393.49 M392.29 594.47H393.49 M392.29 593.51H393.49 M391.29 592.66H393.49 M392.29 710.3H393.49 M392.29 708.82H393.49 M392.29 707.57H393.49 M392.29 706.49H393.49 M392.29 705.53H393.49 M404 710.3V712.5 M414.51 710.3V711.5 M425.02 710.3V712.5 M435.53 710.3V711.5 M446.04 710.3V712.5 M456.55 710.3V711.5 M467.06 710.3V712.5 M477.57 710.3V711.5 M488.08 710.3V712.5 M498.59 710.3V711.5 M509.1 710.3V712.5 M519.61 710.3V711.5 M530.12 710.3V712.5" stroke="#7a7a7a" stroke-width="0.9" fill="none"/>
<text x="404" y="721.3" font-size="9.8" text-anchor="middle" textLength="4.95" lengthAdjust="spacingAndGlyphs" fill="#222" stroke="#222" stroke-width="0.22">0</text>
<text x="425.02" y="721.3" font-size="9.8" text-anchor="middle" textLength="4.95" lengthAdjust="spacingAndGlyphs" fill="#222" stroke="#222" stroke-width="0.22">2</text>
<text x="446.04" y="721.3" font-size="9.8" text-anchor="middle" textLength="4.95" lengthAdjust="spacingAndGlyphs" fill="#222" stroke="#222" stroke-width="0.22">4</text>
<text x="467.06" y="721.3" font-size="9.8" text-anchor="middle" textLength="4.95" lengthAdjust="spacingAndGlyphs" fill="#222" stroke="#222" stroke-width="0.22">6</text>
<text x="488.08" y="721.3" font-size="9.8" text-anchor="middle" textLength="4.95" lengthAdjust="spacingAndGlyphs" fill="#222" stroke="#222" stroke-width="0.22">8</text>
<text x="509.1" y="721.3" font-size="9.8" text-anchor="middle" textLength="9.9" lengthAdjust="spacingAndGlyphs" fill="#222" stroke="#222" stroke-width="0.22">10</text>
<text x="530.12" y="721.3" font-size="9.8" text-anchor="middle" textLength="9.9" lengthAdjust="spacingAndGlyphs" fill="#222" stroke="#222" stroke-width="0.22">12</text>
<text x="467.06" y="735.3" font-size="10" text-anchor="middle" textLength="104" lengthAdjust="spacingAndGlyphs" fill="#222" stroke="#222" stroke-width="0.22">Concentration of HCl (M)</text>
<text transform="translate(365.19 656.58) rotate(-90)" x="0" y="0" font-size="9.8" text-anchor="middle" textLength="119.3" lengthAdjust="spacingAndGlyphs" fill="#222" stroke="#222" stroke-width="0.22">Distribution Coefficients (K<tspan font-size="6.8" dy="2">D</tspan><tspan dy="-2">)</tspan></text>
<text x="399.2" y="609.9" font-size="19.13" font-weight="bold" textLength="88" lengthAdjust="spacingAndGlyphs" fill="#0a0a0a">DOE-300</text>
<path d="M409.25 695.1V710.3" stroke="#6a8fec" stroke-width="0.9"/>
<path d="M435.53 665V705" stroke="#6a8fec" stroke-width="0.9"/>
<path d="M434.53 665h2 M434.53 705h2" stroke="#6a8fec" stroke-width="0.9"/>
<path d="M467.06 694.7V710.3" stroke="#d8689e" stroke-width="0.9"/>
<path d="M404.53 664.4V710.3" stroke="#a9507f" stroke-width="0.9"/>
<path d="M414.51 662V675" stroke="#a9507f" stroke-width="0.9"/>
<path d="M413.51 662h2 M413.51 675h2" stroke="#a9507f" stroke-width="0.9"/>
<rect x="507.1" y="628.5" width="4" height="4" fill="#fff" stroke="#1a48ec" stroke-width="1.15"/>
<rect x="486.08" y="657" width="4" height="4" fill="#fff" stroke="#1a48ec" stroke-width="1.15"/>
<rect x="465.06" y="683.2" width="4" height="4" fill="#fff" stroke="#1a48ec" stroke-width="1.15"/>
<rect x="402.53" y="706.2" width="4" height="4" fill="#fff" stroke="#1a48ec" stroke-width="1.15"/>
<rect x="407.25" y="693.1" width="4" height="4" fill="#fff" stroke="#1a48ec" stroke-width="1.15"/>
<rect x="412.51" y="689.2" width="4" height="4" fill="#fff" stroke="#1a48ec" stroke-width="1.15"/>
<rect x="433.53" y="694.2" width="4" height="4" fill="#fff" stroke="#1a48ec" stroke-width="1.15"/>
<rect x="464.96" y="651.4" width="4.2" height="4.2" fill="#fff" stroke="#6a98f2" stroke-width="0.9"/><path d="M467.06 651.4V655.6M464.96 653.5H469.16" stroke="#6a98f2" stroke-width="0.8"/>
<rect x="485.98" y="639.4" width="4.2" height="4.2" fill="#fff" stroke="#6a98f2" stroke-width="0.9"/><path d="M488.08 639.4V643.6M485.98 641.5H490.18" stroke="#6a98f2" stroke-width="0.8"/>
<rect x="507" y="637.8" width="4.2" height="4.2" fill="#fff" stroke="#6a98f2" stroke-width="0.9"/><path d="M509.1 637.8V642M507 639.9H511.2" stroke="#6a98f2" stroke-width="0.8"/>
<rect x="433.43" y="663.4" width="4.2" height="4.2" fill="#fff" stroke="#6a98f2" stroke-width="0.9"/><path d="M435.53 663.4V667.6M433.43 665.5H437.63" stroke="#6a98f2" stroke-width="0.8"/>
<rect x="402.03" y="661.5" width="5" height="5" fill="#1450ea"/>
<rect x="406.75" y="658" width="5" height="5" fill="#1450ea"/>
<rect x="412.01" y="651.4" width="5" height="5" fill="#1450ea"/>
<rect x="422.52" y="655.4" width="5" height="5" fill="#1450ea"/>
<rect x="433.03" y="657.1" width="5" height="5" fill="#1450ea"/>
<rect x="464.56" y="646.2" width="5" height="5" fill="#1450ea"/>
<rect x="485.58" y="648.4" width="5" height="5" fill="#1450ea"/>
<rect x="506.6" y="623.6" width="5" height="5" fill="#1450ea"/>
<rect x="527.62" y="626.9" width="5" height="5" fill="#1450ea"/>
<path d="M404.53 699.4L407.13 704H401.93Z" fill="#fff" stroke="#dc2a84" stroke-width="1.15" stroke-linejoin="miter"/>
<path d="M409.25 683.6L411.86 688.2H406.65Z" fill="#fff" stroke="#dc2a84" stroke-width="1.15" stroke-linejoin="miter"/>
<path d="M414.51 687.3L417.11 691.9H411.91Z" fill="#fff" stroke="#dc2a84" stroke-width="1.15" stroke-linejoin="miter"/>
<path d="M425.02 697.6L427.62 702.2H422.42Z" fill="#fff" stroke="#dc2a84" stroke-width="1.15" stroke-linejoin="miter"/>
<path d="M435.53 688L438.13 692.6H432.93Z" fill="#fff" stroke="#dc2a84" stroke-width="1.15" stroke-linejoin="miter"/>
<path d="M467.06 692.4L469.66 697H464.46Z" fill="#fff" stroke="#dc2a84" stroke-width="1.15" stroke-linejoin="miter"/>
<path d="M488.08 703.7L490.68 708.3H485.48Z" fill="#fff" stroke="#dc2a84" stroke-width="1.15" stroke-linejoin="miter"/>
<path d="M509.1 702L511.7 706.6H506.5Z" fill="#fff" stroke="#dc2a84" stroke-width="1.15" stroke-linejoin="miter"/>
<path d="M404.53 661.5L407.93 667.3H401.13Z" fill="#961758"/>
<path d="M409.25 659.4L412.65 665.2H405.86Z" fill="#961758"/>
<path d="M414.51 664.2L417.91 670H411.11Z" fill="#961758"/>
<path d="M425.02 660L428.42 665.8H421.62Z" fill="#961758"/>
<path d="M435.53 658.3L438.93 664.1H432.13Z" fill="#961758"/>
<path d="M467.06 658.3L470.46 664.1H463.66Z" fill="#961758"/>
<path d="M488.08 661.5L491.48 667.3H484.68Z" fill="#961758"/>
<path d="M509.1 659.4L512.5 665.2H505.7Z" fill="#961758"/>
<path d="M530.12 658.3L533.52 664.1H526.72Z" fill="#961758"/>
<line x1="176.99" y1="793.82" x2="324.13" y2="793.82" stroke="#959595" stroke-width="1.2" stroke-dasharray="4.1 3.4"/>
<text x="325.23" y="797.92" font-size="10" textLength="16.0" lengthAdjust="spacingAndGlyphs" fill="#222" stroke="#222" stroke-width="0.22">500</text>
<line x1="176.99" y1="812.49" x2="324.13" y2="812.49" stroke="#959595" stroke-width="1.2" stroke-dasharray="4.1 3.4"/>
<text x="325.23" y="816.59" font-size="10" textLength="10.2" lengthAdjust="spacingAndGlyphs" fill="#222" stroke="#222" stroke-width="0.22">50</text>
<path d="M176.99 750.26V868.5H324.73" fill="none" stroke="#7a7a7a" stroke-width="1.4"/>
<text x="173.79" y="865.18" font-size="7.5" text-anchor="end" textLength="9.74" lengthAdjust="spacingAndGlyphs" fill="#222" stroke="#222" stroke-width="0.22">0.1</text>
<text x="173.79" y="846.51" font-size="7.5" text-anchor="end" textLength="3.9" lengthAdjust="spacingAndGlyphs" fill="#222" stroke="#222" stroke-width="0.22">1</text>
<text x="173.79" y="827.84" font-size="7.5" text-anchor="end" textLength="7.79" lengthAdjust="spacingAndGlyphs" fill="#222" stroke="#222" stroke-width="0.22">10</text>
<text x="173.79" y="809.17" font-size="7.5" text-anchor="end" textLength="11.69" lengthAdjust="spacingAndGlyphs" fill="#222" stroke="#222" stroke-width="0.22">100</text>
<text x="173.79" y="790.5" font-size="7.5" text-anchor="end" textLength="15.58" lengthAdjust="spacingAndGlyphs" fill="#222" stroke="#222" stroke-width="0.22">1000</text>
<text x="173.79" y="771.83" font-size="7.5" text-anchor="end" textLength="19.48" lengthAdjust="spacingAndGlyphs" fill="#222" stroke="#222" stroke-width="0.22">10000</text>
<text x="173.79" y="753.16" font-size="7.5" text-anchor="end" textLength="23.37" lengthAdjust="spacingAndGlyphs" fill="#222" stroke="#222" stroke-width="0.22">100000</text>
<path d="M174.79 862.88H176.99 M175.79 857.26H176.99 M175.79 853.97H176.99 M175.79 851.64H176.99 M175.79 849.83H176.99 M175.79 848.35H176.99 M175.79 847.1H176.99 M175.79 846.02H176.99 M175.79 845.06H176.99 M174.79 844.21H176.99 M175.79 838.59H176.99 M175.79 835.3H176.99 M175.79 832.97H176.99 M175.79 831.16H176.99 M175.79 829.68H176.99 M175.79 828.43H176.99 M175.79 827.35H176.99 M175.79 826.39H176.99 M174.79 825.54H176.99 M175.79 819.92H176.99 M175.79 816.63H176.99 M175.79 814.3H176.99 M175.79 812.49H176.99 M175.79 811.01H176.99 M175.79 809.76H176.99 M175.79 808.68H176.99 M175.79 807.72H176.99 M174.79 806.87H176.99 M175.79 801.25H176.99 M175.79 797.96H176.99 M175.79 795.63H176.99 M175.79 793.82H176.99 M175.79 792.34H176.99 M175.79 791.09H176.99 M175.79 790.01H176.99 M175.79 789.05H176.99 M174.79 788.2H176.99 M175.79 782.58H176.99 M175.79 779.29H176.99 M175.79 776.96H176.99 M175.79 775.15H176.99 M175.79 773.67H176.99 M175.79 772.42H176.99 M175.79 771.34H176.99 M175.79 770.38H176.99 M174.79 769.53H176.99 M175.79 763.91H176.99 M175.79 760.62H176.99 M175.79 758.29H176.99 M175.79 756.48H176.99 M175.79 755H176.99 M175.79 753.75H176.99 M175.79 752.67H176.99 M175.79 751.71H176.99 M174.79 750.86H176.99 M175.79 868.5H176.99 M175.79 867.02H176.99 M175.79 865.77H176.99 M175.79 864.69H176.99 M175.79 863.73H176.99 M187.5 868.5V870.7 M198.01 868.5V869.7 M208.52 868.5V870.7 M219.03 868.5V869.7 M229.54 868.5V870.7 M240.05 868.5V869.7 M250.56 868.5V870.7 M261.07 868.5V869.7 M271.58 868.5V870.7 M282.09 868.5V869.7 M292.6 868.5V870.7 M303.11 868.5V869.7 M313.62 868.5V870.7" stroke="#7a7a7a" stroke-width="0.9" fill="none"/>
<text x="187.5" y="879.5" font-size="9.8" text-anchor="middle" textLength="4.95" lengthAdjust="spacingAndGlyphs" fill="#222" stroke="#222" stroke-width="0.22">0</text>
<text x="208.52" y="879.5" font-size="9.8" text-anchor="middle" textLength="4.95" lengthAdjust="spacingAndGlyphs" fill="#222" stroke="#222" stroke-width="0.22">2</text>
<text x="229.54" y="879.5" font-size="9.8" text-anchor="middle" textLength="4.95" lengthAdjust="spacingAndGlyphs" fill="#222" stroke="#222" stroke-width="0.22">4</text>
<text x="250.56" y="879.5" font-size="9.8" text-anchor="middle" textLength="4.95" lengthAdjust="spacingAndGlyphs" fill="#222" stroke="#222" stroke-width="0.22">6</text>
<text x="271.58" y="879.5" font-size="9.8" text-anchor="middle" textLength="4.95" lengthAdjust="spacingAndGlyphs" fill="#222" stroke="#222" stroke-width="0.22">8</text>
<text x="292.6" y="879.5" font-size="9.8" text-anchor="middle" textLength="9.9" lengthAdjust="spacingAndGlyphs" fill="#222" stroke="#222" stroke-width="0.22">10</text>
<text x="313.62" y="879.5" font-size="9.8" text-anchor="middle" textLength="9.9" lengthAdjust="spacingAndGlyphs" fill="#222" stroke="#222" stroke-width="0.22">12</text>
<text x="250.56" y="893.5" font-size="10" text-anchor="middle" textLength="104" lengthAdjust="spacingAndGlyphs" fill="#222" stroke="#222" stroke-width="0.22">Concentration of HCl (M)</text>
<text transform="translate(148.69 814.78) rotate(-90)" x="0" y="0" font-size="9.8" text-anchor="middle" textLength="119.3" lengthAdjust="spacingAndGlyphs" fill="#222" stroke="#222" stroke-width="0.22">Distribution Coefficients (K<tspan font-size="6.8" dy="2">D</tspan><tspan dy="-2">)</tspan></text>
<text x="181.2" y="767.8" font-size="19.55" font-weight="bold" textLength="91" lengthAdjust="spacingAndGlyphs" fill="#0a0a0a">TK401-71</text>
<path d="M198.01 841.7V853" stroke="#6a8fec" stroke-width="0.9"/>
<path d="M197.01 853h2" stroke="#6a8fec" stroke-width="0.9"/>
<path d="M219.03 844.3V868.5" stroke="#6a8fec" stroke-width="0.9"/>
<path d="M192.75 845.4V862" stroke="#d8689e" stroke-width="0.9"/>
<path d="M191.75 862h2" stroke="#d8689e" stroke-width="0.9"/>
<path d="M208.52 847.6V868.5" stroke="#d8689e" stroke-width="0.9"/>
<path d="M271.58 847V868.5" stroke="#d8689e" stroke-width="0.9"/>
<path d="M270.58 847h2" stroke="#d8689e" stroke-width="0.9"/>
<path d="M250.56 830V868.5" stroke="#a9507f" stroke-width="0.9"/>
<path d="M249.56 830h2" stroke="#a9507f" stroke-width="0.9"/>
<path d="M271.58 820V838" stroke="#a9507f" stroke-width="0.9"/>
<path d="M270.58 820h2 M270.58 838h2" stroke="#a9507f" stroke-width="0.9"/>
<path d="M292.6 835.6V846" stroke="#a9507f" stroke-width="0.9"/>
<path d="M291.6 846h2" stroke="#a9507f" stroke-width="0.9"/>
<rect x="290.6" y="771.6" width="4" height="4" fill="#fff" stroke="#1a48ec" stroke-width="1.15"/>
<rect x="248.56" y="820.4" width="4" height="4" fill="#fff" stroke="#1a48ec" stroke-width="1.15"/>
<rect x="186.03" y="853.3" width="4" height="4" fill="#fff" stroke="#1a48ec" stroke-width="1.15"/>
<rect x="186.03" y="848.9" width="4" height="4" fill="#fff" stroke="#1a48ec" stroke-width="1.15"/>
<rect x="190.75" y="842.3" width="4" height="4" fill="#fff" stroke="#1a48ec" stroke-width="1.15"/>
<rect x="196.01" y="839.7" width="4" height="4" fill="#fff" stroke="#1a48ec" stroke-width="1.15"/>
<rect x="206.52" y="853.3" width="4" height="4" fill="#fff" stroke="#1a48ec" stroke-width="1.15"/>
<rect x="217.03" y="842.3" width="4" height="4" fill="#fff" stroke="#1a48ec" stroke-width="1.15"/>
<rect x="311.52" y="789.3" width="4.2" height="4.2" fill="#fff" stroke="#6a98f2" stroke-width="0.9"/><path d="M313.62 789.3V793.5M311.52 791.4H315.72" stroke="#6a98f2" stroke-width="0.8"/>
<rect x="290.5" y="789.7" width="4.2" height="4.2" fill="#fff" stroke="#6a98f2" stroke-width="0.9"/><path d="M292.6 789.7V793.9M290.5 791.8H294.7" stroke="#6a98f2" stroke-width="0.8"/>
<rect x="269.48" y="803.3" width="4.2" height="4.2" fill="#fff" stroke="#6a98f2" stroke-width="0.9"/><path d="M271.58 803.3V807.5M269.48 805.4H273.68" stroke="#6a98f2" stroke-width="0.8"/>
<rect x="248.46" y="816.4" width="4.2" height="4.2" fill="#fff" stroke="#6a98f2" stroke-width="0.9"/><path d="M250.56 816.4V820.6M248.46 818.5H252.66" stroke="#6a98f2" stroke-width="0.8"/>
<rect x="185.53" y="818.9" width="5" height="5" fill="#1450ea"/>
<rect x="190.25" y="816" width="5" height="5" fill="#1450ea"/>
<rect x="195.51" y="815.1" width="5" height="5" fill="#1450ea"/>
<rect x="206.02" y="814.5" width="5" height="5" fill="#1450ea"/>
<rect x="216.53" y="813.4" width="5" height="5" fill="#1450ea"/>
<rect x="248.06" y="809" width="5" height="5" fill="#1450ea"/>
<rect x="269.08" y="795.4" width="5" height="5" fill="#1450ea"/>
<rect x="290.1" y="786.7" width="5" height="5" fill="#1450ea"/>
<rect x="311.12" y="779.4" width="5" height="5" fill="#1450ea"/>
<path d="M188.03 845.3L190.63 849.9H185.43Z" fill="#fff" stroke="#dc2a84" stroke-width="1.15" stroke-linejoin="miter"/>
<path d="M188.03 860.7L190.63 865.3H185.43Z" fill="#fff" stroke="#dc2a84" stroke-width="1.15" stroke-linejoin="miter"/>
<path d="M192.75 843.1L195.35 847.7H190.16Z" fill="#fff" stroke="#dc2a84" stroke-width="1.15" stroke-linejoin="miter"/>
<path d="M208.52 845.3L211.12 849.9H205.92Z" fill="#fff" stroke="#dc2a84" stroke-width="1.15" stroke-linejoin="miter"/>
<path d="M219.03 837.2L221.63 841.8H216.43Z" fill="#fff" stroke="#dc2a84" stroke-width="1.15" stroke-linejoin="miter"/>
<path d="M250.56 837.2L253.16 841.8H247.96Z" fill="#fff" stroke="#dc2a84" stroke-width="1.15" stroke-linejoin="miter"/>
<path d="M271.58 851.9L274.18 856.5H268.98Z" fill="#fff" stroke="#dc2a84" stroke-width="1.15" stroke-linejoin="miter"/>
<path d="M292.6 828.5L295.2 833.1H290Z" fill="#fff" stroke="#dc2a84" stroke-width="1.15" stroke-linejoin="miter"/>
<path d="M188.03 833.8L191.43 839.6H184.63Z" fill="#961758"/>
<path d="M192.75 832.7L196.16 838.5H189.35Z" fill="#961758"/>
<path d="M198.01 832.7L201.41 838.5H194.61Z" fill="#961758"/>
<path d="M208.52 838.8L211.92 844.6H205.12Z" fill="#961758"/>
<path d="M219.03 835.3L222.43 841.1H215.63Z" fill="#961758"/>
<path d="M250.56 833.8L253.96 839.6H247.16Z" fill="#961758"/>
<path d="M271.58 821.7L274.98 827.5H268.18Z" fill="#961758"/>
<path d="M292.6 832.7L296 838.5H289.2Z" fill="#961758"/>
<path d="M313.62 826.1L317.02 831.9H310.22Z" fill="#961758"/>
<line x1="393.49" y1="793.82" x2="540.63" y2="793.82" stroke="#959595" stroke-width="1.2" stroke-dasharray="4.1 3.4"/>
<text x="541.73" y="797.92" font-size="10" textLength="16.0" lengthAdjust="spacingAndGlyphs" fill="#222" stroke="#222" stroke-width="0.22">500</text>
<line x1="393.49" y1="812.49" x2="540.63" y2="812.49" stroke="#959595" stroke-width="1.2" stroke-dasharray="4.1 3.4"/>
<text x="541.73" y="816.59" font-size="10" textLength="10.2" lengthAdjust="spacingAndGlyphs" fill="#222" stroke="#222" stroke-width="0.22">50</text>
<path d="M393.49 750.26V868.5H541.23" fill="none" stroke="#7a7a7a" stroke-width="1.4"/>
<text x="390.29" y="865.18" font-size="7.5" text-anchor="end" textLength="9.74" lengthAdjust="spacingAndGlyphs" fill="#222" stroke="#222" stroke-width="0.22">0.1</text>
<text x="390.29" y="846.51" font-size="7.5" text-anchor="end" textLength="3.9" lengthAdjust="spacingAndGlyphs" fill="#222" stroke="#222" stroke-width="0.22">1</text>
<text x="390.29" y="827.84" font-size="7.5" text-anchor="end" textLength="7.79" lengthAdjust="spacingAndGlyphs" fill="#222" stroke="#222" stroke-width="0.22">10</text>
<text x="390.29" y="809.17" font-size="7.5" text-anchor="end" textLength="11.69" lengthAdjust="spacingAndGlyphs" fill="#222" stroke="#222" stroke-width="0.22">100</text>
<text x="390.29" y="790.5" font-size="7.5" text-anchor="end" textLength="15.58" lengthAdjust="spacingAndGlyphs" fill="#222" stroke="#222" stroke-width="0.22">1000</text>
<text x="390.29" y="771.83" font-size="7.5" text-anchor="end" textLength="19.48" lengthAdjust="spacingAndGlyphs" fill="#222" stroke="#222" stroke-width="0.22">10000</text>
<text x="390.29" y="753.16" font-size="7.5" text-anchor="end" textLength="23.37" lengthAdjust="spacingAndGlyphs" fill="#222" stroke="#222" stroke-width="0.22">100000</text>
<path d="M391.29 862.88H393.49 M392.29 857.26H393.49 M392.29 853.97H393.49 M392.29 851.64H393.49 M392.29 849.83H393.49 M392.29 848.35H393.49 M392.29 847.1H393.49 M392.29 846.02H393.49 M392.29 845.06H393.49 M391.29 844.21H393.49 M392.29 838.59H393.49 M392.29 835.3H393.49 M392.29 832.97H393.49 M392.29 831.16H393.49 M392.29 829.68H393.49 M392.29 828.43H393.49 M392.29 827.35H393.49 M392.29 826.39H393.49 M391.29 825.54H393.49 M392.29 819.92H393.49 M392.29 816.63H393.49 M392.29 814.3H393.49 M392.29 812.49H393.49 M392.29 811.01H393.49 M392.29 809.76H393.49 M392.29 808.68H393.49 M392.29 807.72H393.49 M391.29 806.87H393.49 M392.29 801.25H393.49 M392.29 797.96H393.49 M392.29 795.63H393.49 M392.29 793.82H393.49 M392.29 792.34H393.49 M392.29 791.09H393.49 M392.29 790.01H393.49 M392.29 789.05H393.49 M391.29 788.2H393.49 M392.29 782.58H393.49 M392.29 779.29H393.49 M392.29 776.96H393.49 M392.29 775.15H393.49 M392.29 773.67H393.49 M392.29 772.42H393.49 M392.29 771.34H393.49 M392.29 770.38H393.49 M391.29 769.53H393.49 M392.29 763.91H393.49 M392.29 760.62H393.49 M392.29 758.29H393.49 M392.29 756.48H393.49 M392.29 755H393.49 M392.29 753.75H393.49 M392.29 752.67H393.49 M392.29 751.71H393.49 M391.29 750.86H393.49 M392.29 868.5H393.49 M392.29 867.02H393.49 M392.29 865.77H393.49 M392.29 864.69H393.49 M392.29 863.73H393.49 M404 868.5V870.7 M414.51 868.5V869.7 M425.02 868.5V870.7 M435.53 868.5V869.7 M446.04 868.5V870.7 M456.55 868.5V869.7 M467.06 868.5V870.7 M477.57 868.5V869.7 M488.08 868.5V870.7 M498.59 868.5V869.7 M509.1 868.5V870.7 M519.61 868.5V869.7 M530.12 868.5V870.7" stroke="#7a7a7a" stroke-width="0.9" fill="none"/>
<text x="404" y="879.5" font-size="9.8" text-anchor="middle" textLength="4.95" lengthAdjust="spacingAndGlyphs" fill="#222" stroke="#222" stroke-width="0.22">0</text>
<text x="425.02" y="879.5" font-size="9.8" text-anchor="middle" textLength="4.95" lengthAdjust="spacingAndGlyphs" fill="#222" stroke="#222" stroke-width="0.22">2</text>
<text x="446.04" y="879.5" font-size="9.8" text-anchor="middle" textLength="4.95" lengthAdjust="spacingAndGlyphs" fill="#222" stroke="#222" stroke-width="0.22">4</text>
<text x="467.06" y="879.5" font-size="9.8" text-anchor="middle" textLength="4.95" lengthAdjust="spacingAndGlyphs" fill="#222" stroke="#222" stroke-width="0.22">6</text>
<text x="488.08" y="879.5" font-size="9.8" text-anchor="middle" textLength="4.95" lengthAdjust="spacingAndGlyphs" fill="#222" stroke="#222" stroke-width="0.22">8</text>
<text x="509.1" y="879.5" font-size="9.8" text-anchor="middle" textLength="9.9" lengthAdjust="spacingAndGlyphs" fill="#222" stroke="#222" stroke-width="0.22">10</text>
<text x="530.12" y="879.5" font-size="9.8" text-anchor="middle" textLength="9.9" lengthAdjust="spacingAndGlyphs" fill="#222" stroke="#222" stroke-width="0.22">12</text>
<text x="467.06" y="893.5" font-size="10" text-anchor="middle" textLength="104" lengthAdjust="spacingAndGlyphs" fill="#222" stroke="#222" stroke-width="0.22">Concentration of HCl (M)</text>
<text transform="translate(365.19 814.78) rotate(-90)" x="0" y="0" font-size="9.8" text-anchor="middle" textLength="119.3" lengthAdjust="spacingAndGlyphs" fill="#222" stroke="#222" stroke-width="0.22">Distribution Coefficients (K<tspan font-size="6.8" dy="2">D</tspan><tspan dy="-2">)</tspan></text>
<text x="398.4" y="768.1" font-size="19.55" font-weight="bold" textLength="104.5" lengthAdjust="spacingAndGlyphs" fill="#0a0a0a">TK401-300</text>
<path d="M488.08 854.9V868.5" stroke="#d8689e" stroke-width="0.9"/>
<path d="M409.25 839V868.5" stroke="#a9507f" stroke-width="0.9"/>
<path d="M408.25 839h2" stroke="#a9507f" stroke-width="0.9"/>
<path d="M435.53 843V868.5" stroke="#a9507f" stroke-width="0.9"/>
<path d="M434.53 843h2" stroke="#a9507f" stroke-width="0.9"/>
<path d="M488.08 840.4V868.5" stroke="#a9507f" stroke-width="0.9"/>
<path d="M509.1 844.8V868.5" stroke="#a9507f" stroke-width="0.9"/>
<path d="M530.12 847.6V868.5" stroke="#a9507f" stroke-width="0.9"/>
<rect x="402.53" y="832.5" width="4" height="4" fill="#fff" stroke="#1a48ec" stroke-width="1.15"/>
<rect x="412.51" y="840.2" width="4" height="4" fill="#fff" stroke="#1a48ec" stroke-width="1.15"/>
<rect x="423.02" y="844.5" width="4" height="4" fill="#fff" stroke="#1a48ec" stroke-width="1.15"/>
<rect x="486.08" y="831.4" width="4" height="4" fill="#fff" stroke="#1a48ec" stroke-width="1.15"/>
<rect x="507.1" y="823.1" width="4" height="4" fill="#fff" stroke="#1a48ec" stroke-width="1.15"/>
<rect x="402.53" y="864.2" width="4" height="4" fill="#fff" stroke="#1a48ec" stroke-width="1.15"/>
<rect x="407.25" y="864.5" width="4" height="4" fill="#fff" stroke="#1a48ec" stroke-width="1.15"/>
<rect x="464.96" y="836.1" width="4.2" height="4.2" fill="#fff" stroke="#6a98f2" stroke-width="0.9"/><path d="M467.06 836.1V840.3M464.96 838.2H469.16" stroke="#6a98f2" stroke-width="0.8"/>
<rect x="485.98" y="823.6" width="4.2" height="4.2" fill="#fff" stroke="#6a98f2" stroke-width="0.9"/><path d="M488.08 823.6V827.8M485.98 825.7H490.18" stroke="#6a98f2" stroke-width="0.8"/>
<rect x="507" y="828.7" width="4.2" height="4.2" fill="#fff" stroke="#6a98f2" stroke-width="0.9"/><path d="M509.1 828.7V832.9M507 830.8H511.2" stroke="#6a98f2" stroke-width="0.8"/>
<rect x="528.02" y="836.1" width="4.2" height="4.2" fill="#fff" stroke="#6a98f2" stroke-width="0.9"/><path d="M530.12 836.1V840.3M528.02 838.2H532.22" stroke="#6a98f2" stroke-width="0.8"/>
<rect x="402.03" y="850.2" width="5" height="5" fill="#1450ea"/>
<rect x="406.75" y="826.5" width="5" height="5" fill="#1450ea"/>
<rect x="412.01" y="827.6" width="5" height="5" fill="#1450ea"/>
<rect x="422.52" y="824.8" width="5" height="5" fill="#1450ea"/>
<rect x="433.03" y="822.6" width="5" height="5" fill="#1450ea"/>
<rect x="464.56" y="821" width="5" height="5" fill="#1450ea"/>
<rect x="485.58" y="821" width="5" height="5" fill="#1450ea"/>
<rect x="506.6" y="817.3" width="5" height="5" fill="#1450ea"/>
<rect x="527.62" y="812.3" width="5" height="5" fill="#1450ea"/>
<path d="M404.53 859.6L407.13 864.2H401.93Z" fill="#fff" stroke="#dc2a84" stroke-width="1.15" stroke-linejoin="miter"/>
<path d="M409.25 861.3L411.86 865.9H406.65Z" fill="#fff" stroke="#dc2a84" stroke-width="1.15" stroke-linejoin="miter"/>
<path d="M414.51 857.4L417.11 862H411.91Z" fill="#fff" stroke="#dc2a84" stroke-width="1.15" stroke-linejoin="miter"/>
<path d="M425.02 860.7L427.62 865.3H422.42Z" fill="#fff" stroke="#dc2a84" stroke-width="1.15" stroke-linejoin="miter"/>
<path d="M435.53 862.8L438.13 867.4H432.93Z" fill="#fff" stroke="#dc2a84" stroke-width="1.15" stroke-linejoin="miter"/>
<path d="M467.06 863.9L469.66 868.5H464.46Z" fill="#fff" stroke="#dc2a84" stroke-width="1.15" stroke-linejoin="miter"/>
<path d="M488.08 852.6L490.68 857.2H485.48Z" fill="#fff" stroke="#dc2a84" stroke-width="1.15" stroke-linejoin="miter"/>
<path d="M509.1 863.9L511.7 868.5H506.5Z" fill="#fff" stroke="#dc2a84" stroke-width="1.15" stroke-linejoin="miter"/>
<path d="M409.25 841.9L412.65 847.7H405.86Z" fill="#961758"/>
<path d="M414.51 834.9L417.91 840.7H411.11Z" fill="#961758"/>
<path d="M435.53 847.6L438.93 853.4H432.13Z" fill="#961758"/>
<path d="M488.08 837.5L491.48 843.3H484.68Z" fill="#961758"/>
<path d="M509.1 841.9L512.5 847.7H505.7Z" fill="#961758"/>
<path d="M530.12 844.7L533.52 850.5H526.72Z" fill="#961758"/>
<path d="M18.3 331.9 L31.4 324.8 L44.2 331.9 L57.3 324.8 L63.6 328.6" fill="none" stroke="#2a2a2a" stroke-width="1.1" stroke-linejoin="miter"/>
<path d="M75.9 328.6 L82.9 324.8 L96.1 331.9 L108.9 324.8 L121.3 331.9" fill="none" stroke="#2a2a2a" stroke-width="1.1" stroke-linejoin="miter"/>
<ellipse cx="69.9" cy="332.4" rx="4.3" ry="4.5" fill="none" stroke="#111" stroke-width="1.5"/>
<path d="M12.35 488.7 L24.1 482 L35.85 488.7 L47.6 482 L59.35 488.7 L66.9 484.9" fill="none" stroke="#2a2a2a" stroke-width="1.0" stroke-linejoin="miter"/>
<path d="M75.3 484.9 L82.85 488.7 L94.6 482 L106.35 488.7 L118.1 482 L129.85 488.7" fill="none" stroke="#2a2a2a" stroke-width="1.0" stroke-linejoin="miter"/>
<ellipse cx="71.2" cy="482.7" rx="3.1" ry="3.3" fill="none" stroke="#222" stroke-width="1.2"/>
<path d="M5.54 643.2 L13.46 647.6 L21.38 643.2 L29.3 647.6 L37.22 643.2 L45.14 647.6 L53.06 643.2 L60.98 647.6 L66.3 645.2" fill="none" stroke="#333" stroke-width="0.9" stroke-linejoin="miter"/>
<path d="M71.5 645.2 L76.82 647.6 L84.74 643.2 L92.66 647.6 L100.58 643.2 L108.5 647.6 L116.42 643.2 L124.34 647.6 L132.26 643.2" fill="none" stroke="#333" stroke-width="0.9" stroke-linejoin="miter"/>
<ellipse cx="68.9" cy="643.6" rx="2.2" ry="2.4" fill="none" stroke="#333" stroke-width="0.9"/>
<path d="M245 46.7 L259.3 38.1 L273.6 46.7 L287.9 38.1" fill="none" stroke="#2a2a2a" stroke-width="1.0" stroke-linejoin="miter"/>
<path d="M273.6 46.7 L273.6 62.8" fill="none" stroke="#2a2a2a" stroke-width="1.0" stroke-linejoin="miter"/>
<path d="M273.6 62.8 L282.6 68.3" fill="none" stroke="#2a2a2a" stroke-width="1.0" stroke-linejoin="miter"/>
<path d="M274.4 60.6 L283.4 66.1" fill="none" stroke="#2a2a2a" stroke-width="1.0" stroke-linejoin="miter"/>
<path d="M273.6 62.8 L264.4 68" fill="none" stroke="#2a2a2a" stroke-width="1.0" stroke-linejoin="miter"/>
<path d="M259.1 77.4 L259.1 80.8" fill="none" stroke="#2a2a2a" stroke-width="1.0" stroke-linejoin="miter"/>
<path d="M250.8 29.4 L249.3 29.4 L249.3 55.5 L250.8 55.5" fill="none" stroke="#2a2a2a" stroke-width="1.0" stroke-linejoin="miter"/>
<path d="M280 29.4 L281.5 29.4 L281.5 55.5 L280 55.5" fill="none" stroke="#2a2a2a" stroke-width="1.0" stroke-linejoin="miter"/>
<text x="259.2" y="75.6" font-size="10.6" text-anchor="middle" fill="#222" stroke="#222" stroke-width="0.3">O</text>
<text x="287.5" y="75.6" font-size="10.6" text-anchor="middle" fill="#222" stroke="#222" stroke-width="0.3">O</text>
<text x="259.6" y="91.7" font-size="10.6" text-anchor="middle" fill="#222" stroke="#222" stroke-width="0.3">R</text>
<text x="285.0" y="56.0" font-size="10.4" font-style="italic" fill="#222" stroke="#222" stroke-width="0.25">n</text>
<path d="M433.5 48.9 L444.67 55.35 L444.67 68.25 L433.5 74.7 L422.33 68.25 L422.33 55.35Z" fill="none" stroke="#2a2a2a" stroke-width="1"/>
<path d="M434.39 52L441.54 56.12" stroke="#2a2a2a" stroke-width="1"/>
<path d="M441.54 67.48L434.39 71.6" stroke="#2a2a2a" stroke-width="1"/>
<path d="M424.56 65.93L424.56 57.67" stroke="#2a2a2a" stroke-width="1"/>
<path d="M472.6 44.5 L483.69 50.9 L483.69 63.7 L472.6 70.1 L461.51 63.7 L461.51 50.9Z" fill="none" stroke="#2a2a2a" stroke-width="1"/>
<path d="M473.49 47.57L480.58 51.67" stroke="#2a2a2a" stroke-width="1"/>
<path d="M480.58 62.93L473.49 67.03" stroke="#2a2a2a" stroke-width="1"/>
<path d="M463.73 61.4L463.73 53.2" stroke="#2a2a2a" stroke-width="1"/>
<path d="M433.5 74.7 L433.5 87.9" fill="none" stroke="#2a2a2a" stroke-width="1.0" stroke-linejoin="miter"/>
<path d="M472.6 70.1 L472.6 83.5" fill="none" stroke="#2a2a2a" stroke-width="1.0" stroke-linejoin="miter"/>
<path d="M413.9 98 L433.5 87.9 L445.9 94.5 L472.6 83.5 L483.9 90.2 L494.9 83.5" fill="none" stroke="#2a2a2a" stroke-width="1.0" stroke-linejoin="miter"/>
<path d="M475.6 25.9 L486.5 32.1 L497.9 26.2 L508.8 32.6" fill="none" stroke="#2a2a2a" stroke-width="1.0" stroke-linejoin="miter"/>
<path d="M486.5 32.1 L472.8 59.1" fill="none" stroke="#2a2a2a" stroke-width="1.0" stroke-linejoin="miter"/>
<path d="M419.2 76.5 L417.7 76.5 L417.7 100.6 L419.2 100.6" fill="none" stroke="#2a2a2a" stroke-width="1.0" stroke-linejoin="miter"/>
<path d="M446 76.5 L447.5 76.5 L447.5 100.6 L446 100.6" fill="none" stroke="#2a2a2a" stroke-width="1.0" stroke-linejoin="miter"/>
<path d="M462 72.4 L460.5 72.4 L460.5 100.5 L462 100.5" fill="none" stroke="#8a8a8a" stroke-width="1.1" stroke-linejoin="miter"/>
<path d="M490.7 72.4 L492.2 72.4 L492.2 100.5 L490.7 100.5" fill="none" stroke="#8a8a8a" stroke-width="1.1" stroke-linejoin="miter"/>
<path d="M479.3 22.1 L478 22.1 L478 35.4 L479.3 35.4" fill="none" stroke="#666" stroke-width="1.0" stroke-linejoin="miter"/>
<path d="M499.9 22.1 L501.2 22.1 L501.2 35.4 L499.9 35.4" fill="none" stroke="#666" stroke-width="1.0" stroke-linejoin="miter"/>
<text x="449.6" y="101" font-size="9.6" font-style="italic" fill="#222" stroke="#222" stroke-width="0.25">m</text>
<text x="493.8" y="100" font-size="9.6" font-style="italic" fill="#222" stroke="#222" stroke-width="0.25">n</text>
<rect x="567.3" y="447.3" width="116.4" height="119.9" fill="#fff" stroke="#888" stroke-width="0.9"/>
<line x1="569.1" y1="461.5" x2="608.4" y2="461.5" stroke="#1a48ec" stroke-width="1.2"/>
<line x1="569.1" y1="484.5" x2="608.4" y2="484.5" stroke="#6a98f2" stroke-width="1.2"/>
<line x1="569.1" y1="508.5" x2="608.4" y2="508.5" stroke="#0c2aa2" stroke-width="1.2"/>
<line x1="569.1" y1="531.5" x2="608.4" y2="531.5" stroke="#dc2a84" stroke-width="1.2"/>
<line x1="569.1" y1="555.5" x2="608.4" y2="555.5" stroke="#961758" stroke-width="1.2"/>
<rect x="584.0" y="456.7" width="9.6" height="9.6" fill="#fff" stroke="#1a48ec" stroke-width="1.9"/>
<rect x="583.8" y="479.7" width="10" height="10" fill="#fff" stroke="#6a98f2" stroke-width="1.5"/><path d="M588.8 479.7V489.7M583.8 484.7H593.8" stroke="#6a98f2" stroke-width="1.3"/>
<rect x="583.0" y="502.5" width="11.6" height="11.6" fill="#0c2aa2"/>
<path d="M588.8 524.6L595.3 535.5H582.3Z" fill="#fff" stroke="#dc2a84" stroke-width="1.8"/>
<path d="M588.8 547.4L596.5999999999999 560.5H581.0Z" fill="#961758"/>
<text x="613.4" y="459.5" font-size="11.3" textLength="15.9" lengthAdjust="spacingAndGlyphs" fill="#1a1a1a">nat</text>
<text x="629.6" y="467.1" font-size="16.4" textLength="51.6" lengthAdjust="spacingAndGlyphs" fill="#1a1a1a">Sb (m)</text>
<text x="613.4" y="482.7" font-size="11.3" textLength="15.9" lengthAdjust="spacingAndGlyphs" fill="#1a1a1a">nat</text>
<text x="629.6" y="490.3" font-size="16.4" textLength="46.0" lengthAdjust="spacingAndGlyphs" fill="#1a1a1a">Sb (s)</text>
<text x="613.4" y="506.3" font-size="11.3" textLength="29.6" lengthAdjust="spacingAndGlyphs" fill="#1a1a1a">120m</text>
<text x="643.3" y="513.9" font-size="16.4" fill="#1a1a1a">Sb</text>
<text x="613.4" y="529.6" font-size="11.3" textLength="15.9" lengthAdjust="spacingAndGlyphs" fill="#1a1a1a">nat</text>
<text x="629.6" y="537.2" font-size="16.4" textLength="51.6" lengthAdjust="spacingAndGlyphs" fill="#1a1a1a">Sn (m)</text>
<text x="613.4" y="553.3" font-size="11.3" textLength="29.6" lengthAdjust="spacingAndGlyphs" fill="#1a1a1a">117m</text>
<text x="643.3" y="560.9" font-size="16.4" fill="#1a1a1a">Sn</text>
</svg>
</body></html>
